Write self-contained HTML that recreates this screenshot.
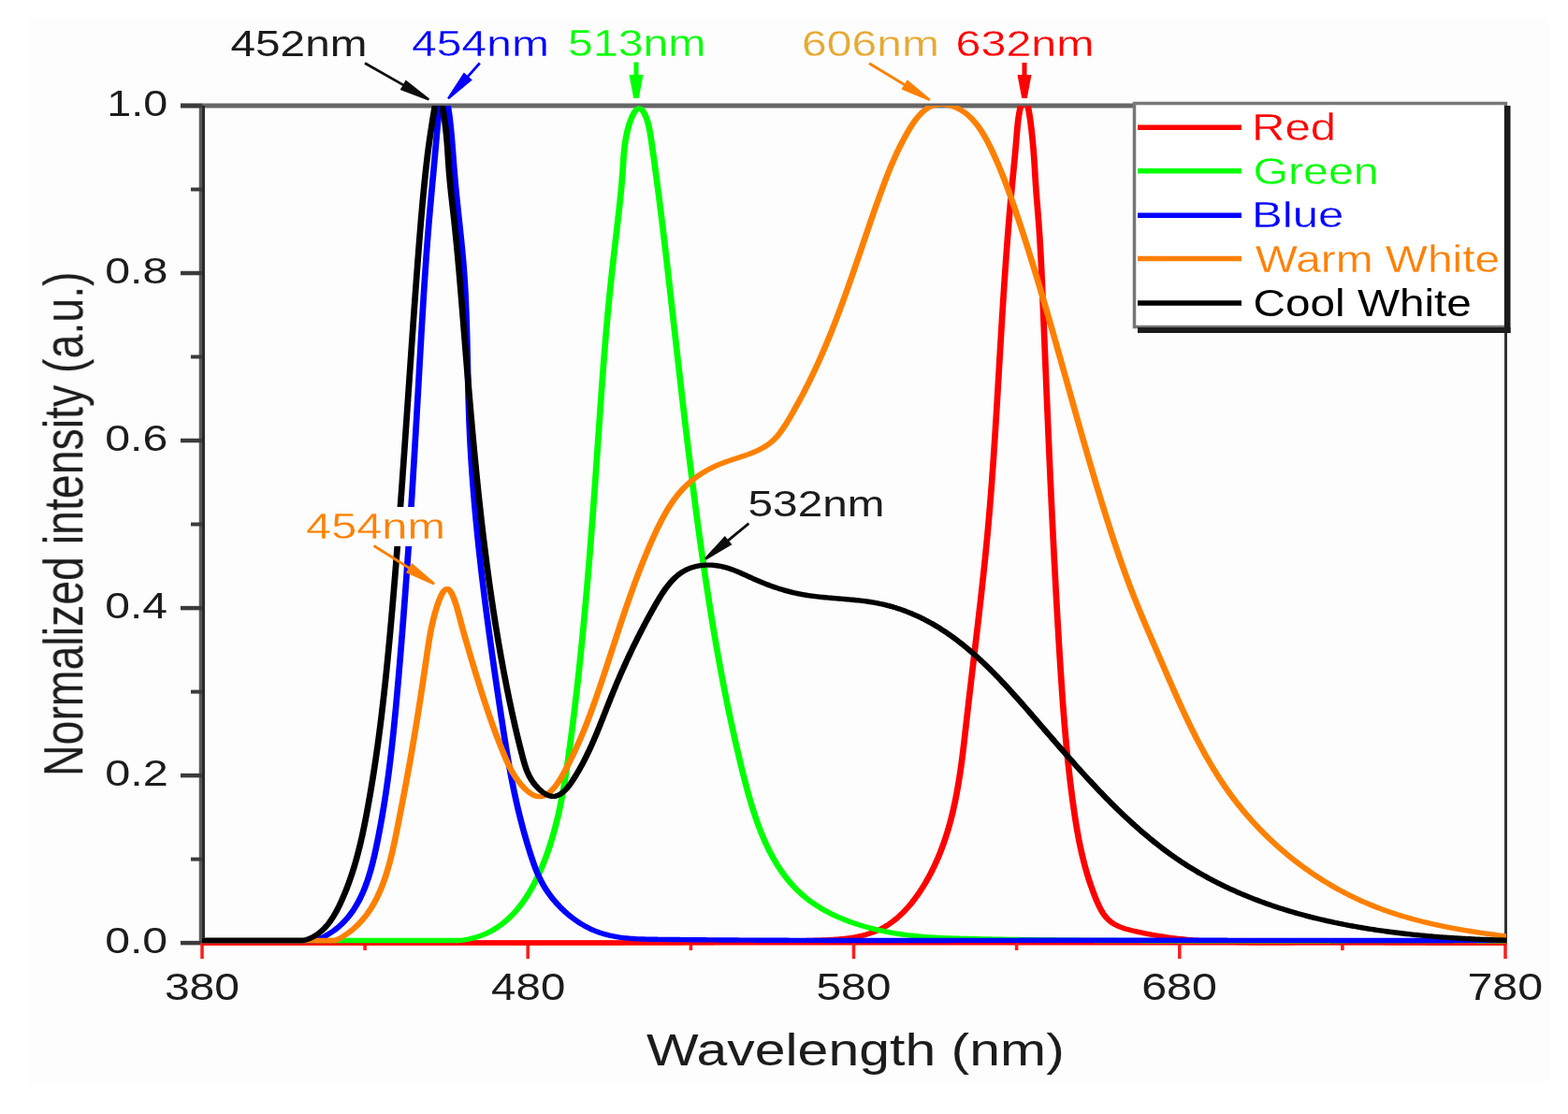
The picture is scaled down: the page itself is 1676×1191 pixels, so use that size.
<!DOCTYPE html>
<html><head><meta charset="utf-8"><style>
html,body{margin:0;padding:0;background:#fff;}
svg{display:block;}
text{font-family:"Liberation Sans",Arial,sans-serif;filter:url(#tblur);}
text.c{stroke:#fdfdfd;stroke-width:0.3px;}
</style></head><body>
<svg xmlns="http://www.w3.org/2000/svg" width="1676" height="1191" viewBox="0 0 1676 1191">
<defs><filter id="tblur" x="-5%" y="-20%" width="110%" height="140%"><feGaussianBlur stdDeviation="0.5"/></filter><filter id="soft" x="0" y="0" width="1676" height="1191" filterUnits="userSpaceOnUse"><feGaussianBlur stdDeviation="0.6"/></filter></defs>
<rect width="1676" height="1191" fill="#fff"/>
<g filter="url(#soft)">
<rect x="30" y="20" width="1627" height="1139" fill="#fdfdfd"/>
<line x1="193" y1="113" x2="1610" y2="113" stroke="#666" stroke-width="5"/>
<line x1="216" y1="1008" x2="1610" y2="1008" stroke="#ff0000" stroke-width="5"/>
<line x1="214.4" y1="113" x2="214.4" y2="1010" stroke="#5a5a5a" stroke-width="3.3"/>
<line x1="217.5" y1="113" x2="217.5" y2="1010" stroke="#2b2b2b" stroke-width="3"/>
<line x1="1609.5" y1="113" x2="1609.5" y2="1009" stroke="#333" stroke-width="3"/>
<line x1="193" y1="1008.1" x2="216" y2="1008.1" stroke="#3a3a3a" stroke-width="4.5"/>
<line x1="204" y1="918.6" x2="216" y2="918.6" stroke="#3a3a3a" stroke-width="4"/>
<line x1="193" y1="829.1" x2="216" y2="829.1" stroke="#3a3a3a" stroke-width="4.5"/>
<line x1="204" y1="739.6" x2="216" y2="739.6" stroke="#3a3a3a" stroke-width="4"/>
<line x1="193" y1="650.1" x2="216" y2="650.1" stroke="#3a3a3a" stroke-width="4.5"/>
<line x1="204" y1="560.5" x2="216" y2="560.5" stroke="#3a3a3a" stroke-width="4"/>
<line x1="193" y1="471.0" x2="216" y2="471.0" stroke="#3a3a3a" stroke-width="4.5"/>
<line x1="204" y1="381.5" x2="216" y2="381.5" stroke="#3a3a3a" stroke-width="4"/>
<line x1="193" y1="292.0" x2="216" y2="292.0" stroke="#3a3a3a" stroke-width="4.5"/>
<line x1="204" y1="202.5" x2="216" y2="202.5" stroke="#3a3a3a" stroke-width="4"/>
<line x1="193" y1="113.0" x2="216" y2="113.0" stroke="#3a3a3a" stroke-width="4.5"/>
<line x1="216.0" y1="1008" x2="216.0" y2="1025" stroke="#ff1a1a" stroke-width="3.5"/>
<line x1="390.1" y1="1008" x2="390.1" y2="1016" stroke="#ff1a1a" stroke-width="3.5"/>
<line x1="564.2" y1="1008" x2="564.2" y2="1025" stroke="#ff1a1a" stroke-width="3.5"/>
<line x1="738.4" y1="1008" x2="738.4" y2="1016" stroke="#ff1a1a" stroke-width="3.5"/>
<line x1="912.5" y1="1008" x2="912.5" y2="1025" stroke="#ff1a1a" stroke-width="3.5"/>
<line x1="1086.6" y1="1008" x2="1086.6" y2="1016" stroke="#ff1a1a" stroke-width="3.5"/>
<line x1="1260.8" y1="1008" x2="1260.8" y2="1025" stroke="#ff1a1a" stroke-width="3.5"/>
<line x1="1434.9" y1="1008" x2="1434.9" y2="1016" stroke="#ff1a1a" stroke-width="3.5"/>
<line x1="1609.0" y1="1008" x2="1609.0" y2="1025" stroke="#ff1a1a" stroke-width="3.5"/>
<clipPath id="plotclip"><rect x="216" y="113" width="1394" height="900"/></clipPath>
<g clip-path="url(#plotclip)">
<g transform="scale(1.245,1)">
<path d="M173.49,1008.00 L175.14,1008.02 L176.74,1008.02 L178.35,1008.01 L179.95,1008.01 L181.56,1008.01 L183.16,1008.01 L184.77,1008.01 L186.38,1008.01 L187.98,1008.00 L189.59,1008.00 L191.19,1008.00 L192.80,1008.00 L194.41,1008.00 L196.01,1008.00 L197.62,1007.99 L199.22,1007.99 L200.83,1007.99 L202.44,1007.99 L204.04,1007.99 L205.65,1007.99 L207.26,1007.99 L208.86,1007.99 L210.47,1007.99 L212.08,1007.98 L213.68,1007.98 L215.29,1007.98 L216.90,1007.98 L218.50,1007.98 L220.11,1007.98 L221.72,1007.98 L223.33,1007.98 L224.93,1007.98 L226.54,1007.98 L228.15,1007.98 L229.76,1007.98 L231.36,1007.98 L232.97,1007.98 L234.58,1007.98 L236.19,1007.98 L237.79,1007.98 L239.40,1007.98 L241.01,1007.98 L242.62,1007.98 L244.23,1007.98 L245.83,1007.98 L247.44,1007.98 L249.05,1007.98 L250.66,1007.98 L252.27,1007.98 L253.88,1007.98 L255.48,1007.98 L257.09,1007.98 L258.70,1007.98 L260.31,1007.98 L261.92,1007.98 L263.53,1007.98 L265.14,1007.98 L266.75,1007.98 L268.35,1007.98 L269.96,1007.98 L271.57,1007.98 L273.18,1007.98 L274.79,1007.98 L276.40,1007.98 L278.01,1007.98 L279.62,1007.98 L281.23,1007.98 L282.83,1007.98 L284.44,1007.98 L286.05,1007.98 L287.66,1007.98 L289.27,1007.98 L290.88,1007.98 L292.49,1007.98 L294.10,1007.98 L295.71,1007.99 L297.32,1007.99 L298.93,1007.99 L300.54,1007.99 L302.15,1007.99 L303.76,1007.99 L305.37,1007.99 L306.98,1007.99 L308.59,1007.99 L310.19,1007.99 L311.80,1007.99 L313.41,1007.99 L315.02,1007.99 L316.63,1007.99 L318.24,1008.00 L319.85,1008.00 L321.46,1008.00 L323.07,1008.00 L324.68,1008.00 L326.29,1008.00 L327.90,1008.00 L329.51,1008.00 L331.12,1008.00 L332.73,1008.00 L334.34,1008.00 L335.95,1008.00 L337.56,1008.01 L339.17,1008.01 L340.78,1008.01 L342.39,1008.01 L344.00,1008.01 L345.61,1008.01 L347.22,1008.01 L348.83,1008.01 L350.44,1008.01 L352.05,1008.01 L353.66,1008.01 L355.27,1008.01 L356.88,1008.01 L358.49,1008.02 L360.10,1008.02 L361.71,1008.02 L363.32,1008.02 L364.93,1008.02 L366.54,1008.02 L368.15,1008.02 L369.76,1008.02 L371.37,1008.02 L372.98,1008.02 L374.59,1008.02 L376.20,1008.02 L377.81,1008.02 L379.42,1008.02 L381.03,1008.03 L382.64,1008.03 L384.25,1008.03 L385.86,1008.03 L387.47,1008.03 L389.08,1008.03 L390.69,1008.03 L392.30,1008.03 L393.91,1008.03 L395.52,1008.03 L397.13,1008.03 L398.74,1008.03 L400.35,1008.03 L401.96,1008.03 L403.57,1008.03 L405.18,1008.03 L406.79,1008.03 L408.40,1008.03 L410.00,1008.03 L411.61,1008.03 L413.22,1008.03 L414.83,1008.03 L416.44,1008.03 L418.05,1008.03 L419.66,1008.03 L421.27,1008.03 L422.88,1008.03 L424.49,1008.03 L426.10,1008.03 L427.71,1008.03 L429.32,1008.03 L430.93,1008.03 L432.54,1008.03 L434.14,1008.03 L435.75,1008.03 L437.36,1008.03 L438.97,1008.03 L440.58,1008.03 L442.19,1008.03 L443.80,1008.03 L445.41,1008.03 L447.02,1008.03 L448.62,1008.03 L450.23,1008.03 L451.84,1008.03 L453.45,1008.03 L455.06,1008.03 L456.67,1008.03 L458.28,1008.02 L459.88,1008.02 L461.49,1008.02 L463.10,1008.02 L464.71,1008.02 L466.32,1008.02 L467.93,1008.02 L469.53,1008.02 L471.14,1008.02 L472.75,1008.02 L474.36,1008.01 L475.97,1008.01 L477.57,1008.01 L479.18,1008.01 L480.79,1008.01 L482.40,1008.01 L484.00,1008.01 L485.61,1008.00 L487.22,1008.00 L488.83,1008.00 L490.43,1008.00 L492.04,1008.00 L493.65,1008.00 L495.25,1007.99 L496.86,1007.99 L498.47,1007.99 L500.08,1007.99 L501.68,1007.98 L503.29,1007.98 L504.90,1007.98 L506.50,1007.98 L508.11,1007.98 L509.72,1007.97 L511.32,1007.97 L512.93,1007.97 L514.54,1007.97 L516.14,1007.96 L517.75,1007.96 L519.35,1007.96 L520.96,1007.95 L522.57,1007.95 L524.17,1007.95 L525.78,1007.94 L527.38,1007.94 L528.99,1007.94 L530.59,1007.93 L532.20,1007.93 L533.80,1007.93 L535.41,1007.92 L537.02,1007.92 L538.62,1007.92 L540.23,1007.91 L541.83,1007.91 L543.44,1007.90 L545.04,1007.90 L546.65,1007.89 L548.25,1007.89 L549.86,1007.88 L551.46,1007.88 L553.07,1007.87 L554.67,1007.87 L556.28,1007.86 L557.88,1007.85 L559.49,1007.85 L561.09,1007.84 L562.70,1007.83 L564.30,1007.83 L565.91,1007.82 L567.51,1007.81 L569.12,1007.80 L570.72,1007.79 L572.33,1007.78 L573.93,1007.77 L575.54,1007.76 L577.15,1007.75 L578.75,1007.74 L580.36,1007.73 L581.96,1007.72 L583.57,1007.71 L585.17,1007.70 L586.78,1007.69 L588.39,1007.67 L589.99,1007.66 L591.60,1007.65 L593.20,1007.63 L594.81,1007.62 L596.42,1007.60 L598.02,1007.59 L599.63,1007.57 L601.24,1007.56 L602.85,1007.54 L604.45,1007.52 L606.06,1007.50 L607.67,1007.49 L609.28,1007.47 L610.88,1007.45 L612.49,1007.43 L614.10,1007.41 L615.71,1007.39 L617.32,1007.37 L618.92,1007.34 L620.53,1007.32 L622.14,1007.30 L623.75,1007.27 L625.36,1007.25 L626.97,1007.22 L628.58,1007.20 L630.19,1007.17 L631.80,1007.14 L633.41,1007.12 L635.02,1007.09 L636.63,1007.06 L638.24,1007.03 L639.85,1007.00 L641.47,1006.97 L643.08,1006.94 L644.69,1006.90 L646.30,1006.87 L647.91,1006.84 L649.53,1006.80 L651.14,1006.77 L652.75,1006.73 L654.37,1006.69 L655.98,1006.66 L657.59,1006.62 L659.21,1006.58 L660.82,1006.54 L662.44,1006.50 L664.05,1006.45 L665.67,1006.41 L667.28,1006.37 L668.90,1006.32 L670.52,1006.28 L672.13,1006.23 L673.75,1006.19 L675.37,1006.14 L676.99,1006.09 L678.60,1006.04 L680.22,1005.99 L681.84,1005.94 L683.46,1005.89 L685.08,1005.83 L686.70,1005.78 L688.32,1005.72 L689.94,1005.67 L691.56,1005.61 L693.18,1005.55 L694.80,1005.49 L696.42,1005.43 L698.05,1005.37 L699.67,1005.31 L701.29,1005.25 L702.92,1005.18 L704.54,1005.11 L706.16,1005.04 L707.78,1004.96 L709.40,1004.87 L711.01,1004.78 L712.62,1004.67 L714.23,1004.56 L715.84,1004.43 L717.44,1004.30 L719.04,1004.15 L720.64,1003.98 L722.22,1003.80 L723.81,1003.61 L725.38,1003.39 L726.95,1003.16 L728.52,1002.91 L730.08,1002.64 L731.63,1002.34 L733.17,1002.02 L734.70,1001.68 L736.22,1001.32 L737.74,1000.93 L739.24,1000.51 L740.74,1000.06 L742.23,999.58 L743.70,999.08 L745.16,998.54 L746.61,997.97 L748.05,997.37 L749.48,996.73 L750.90,996.06 L752.30,995.34 L753.68,994.60 L755.06,993.81 L756.42,992.98 L757.76,992.12 L759.09,991.21 L760.40,990.26 L761.70,989.26 L762.98,988.23 L764.25,987.16 L765.50,986.06 L766.74,984.92 L767.96,983.74 L769.17,982.52 L770.36,981.28 L771.54,980.00 L772.70,978.69 L773.84,977.35 L774.98,975.98 L776.09,974.58 L777.19,973.15 L778.28,971.70 L779.35,970.22 L780.41,968.72 L781.45,967.19 L782.48,965.64 L783.49,964.07 L784.49,962.48 L785.47,960.87 L786.44,959.24 L787.40,957.59 L788.34,955.92 L789.26,954.24 L790.17,952.54 L791.07,950.83 L791.95,949.11 L792.82,947.38 L793.67,945.63 L794.51,943.88 L795.33,942.11 L796.14,940.34 L796.94,938.56 L797.72,936.78 L798.49,934.99 L799.24,933.19 L799.98,931.39 L800.70,929.58 L801.42,927.77 L802.12,925.95 L802.80,924.13 L803.47,922.30 L804.13,920.47 L804.78,918.63 L805.42,916.79 L806.04,914.94 L806.65,913.09 L807.25,911.23 L807.84,909.37 L808.41,907.51 L808.97,905.64 L809.53,903.77 L810.07,901.89 L810.60,900.01 L811.12,898.12 L811.63,896.23 L812.13,894.33 L812.62,892.44 L813.09,890.53 L813.56,888.63 L814.02,886.72 L814.47,884.81 L814.91,882.89 L815.34,880.97 L815.76,879.04 L816.17,877.12 L816.58,875.19 L816.97,873.25 L817.36,871.32 L817.74,869.38 L818.11,867.43 L818.47,865.49 L818.82,863.54 L819.17,861.59 L819.51,859.64 L819.84,857.68 L820.17,855.72 L820.49,853.76 L820.80,851.79 L821.10,849.83 L821.40,847.86 L821.70,845.89 L821.98,843.91 L822.26,841.94 L822.54,839.96 L822.81,837.98 L823.07,836.00 L823.33,834.02 L823.58,832.03 L823.83,830.05 L824.08,828.06 L824.32,826.07 L824.55,824.08 L824.78,822.09 L825.01,820.09 L825.23,818.10 L825.45,816.10 L825.67,814.11 L825.88,812.11 L826.09,810.11 L826.30,808.11 L826.50,806.11 L826.70,804.11 L826.90,802.10 L827.09,800.10 L827.29,798.10 L827.48,796.09 L827.67,794.09 L827.86,792.08 L828.05,790.08 L828.23,788.08 L828.41,786.07 L828.60,784.06 L828.78,782.06 L828.96,780.05 L829.14,778.05 L829.32,776.04 L829.51,774.04 L829.69,772.04 L829.87,770.03 L830.05,768.03 L830.23,766.03 L830.41,764.02 L830.60,762.02 L830.78,760.02 L830.96,758.02 L831.15,756.02 L831.33,754.02 L831.52,752.02 L831.70,750.03 L831.89,748.03 L832.07,746.03 L832.26,744.03 L832.45,742.04 L832.63,740.04 L832.82,738.05 L833.01,736.05 L833.20,734.06 L833.38,732.06 L833.57,730.07 L833.76,728.08 L833.95,726.08 L834.14,724.09 L834.33,722.10 L834.52,720.11 L834.70,718.11 L834.89,716.12 L835.08,714.13 L835.27,712.14 L835.46,710.15 L835.65,708.16 L835.84,706.17 L836.03,704.19 L836.22,702.20 L836.41,700.21 L836.60,698.22 L836.79,696.23 L836.98,694.24 L837.17,692.26 L837.35,690.27 L837.54,688.28 L837.73,686.30 L837.92,684.31 L838.11,682.32 L838.30,680.34 L838.48,678.35 L838.67,676.37 L838.86,674.38 L839.04,672.40 L839.23,670.41 L839.42,668.43 L839.60,666.44 L839.79,664.46 L839.97,662.47 L840.16,660.49 L840.34,658.50 L840.53,656.52 L840.71,654.54 L840.89,652.55 L841.07,650.57 L841.26,648.59 L841.44,646.60 L841.62,644.62 L841.80,642.63 L841.98,640.65 L842.16,638.67 L842.34,636.68 L842.52,634.70 L842.69,632.72 L842.87,630.73 L843.05,628.75 L843.22,626.77 L843.39,624.78 L843.57,622.80 L843.74,620.81 L843.91,618.83 L844.09,616.85 L844.26,614.86 L844.43,612.88 L844.60,610.89 L844.76,608.91 L844.93,606.93 L845.10,604.94 L845.26,602.96 L845.43,600.97 L845.59,598.99 L845.76,597.00 L845.92,595.02 L846.08,593.03 L846.24,591.05 L846.40,589.06 L846.55,587.07 L846.71,585.09 L846.87,583.10 L847.02,581.12 L847.18,579.13 L847.33,577.14 L847.48,575.15 L847.63,573.17 L847.78,571.18 L847.93,569.19 L848.07,567.20 L848.22,565.21 L848.36,563.22 L848.50,561.24 L848.65,559.25 L848.79,557.26 L848.93,555.27 L849.06,553.28 L849.20,551.29 L849.34,549.29 L849.47,547.30 L849.61,545.31 L849.74,543.32 L849.87,541.33 L850.00,539.34 L850.13,537.34 L850.26,535.35 L850.39,533.36 L850.52,531.36 L850.64,529.37 L850.77,527.38 L850.89,525.38 L851.02,523.39 L851.14,521.39 L851.26,519.40 L851.38,517.40 L851.50,515.41 L851.62,513.41 L851.74,511.42 L851.86,509.42 L851.97,507.43 L852.09,505.43 L852.20,503.43 L852.32,501.44 L852.43,499.44 L852.54,497.44 L852.66,495.44 L852.77,493.45 L852.88,491.45 L852.99,489.45 L853.10,487.45 L853.21,485.45 L853.31,483.45 L853.42,481.46 L853.53,479.46 L853.63,477.46 L853.74,475.46 L853.85,473.46 L853.95,471.46 L854.05,469.46 L854.16,467.46 L854.26,465.46 L854.36,463.46 L854.47,461.45 L854.57,459.45 L854.67,457.45 L854.77,455.45 L854.87,453.45 L854.97,451.45 L855.07,449.44 L855.17,447.44 L855.27,445.44 L855.37,443.44 L855.47,441.43 L855.56,439.43 L855.66,437.43 L855.76,435.43 L855.86,433.42 L855.95,431.42 L856.05,429.42 L856.15,427.41 L856.24,425.41 L856.34,423.40 L856.43,421.40 L856.53,419.39 L856.62,417.39 L856.72,415.38 L856.82,413.38 L856.91,411.38 L857.01,409.37 L857.10,407.36 L857.20,405.36 L857.29,403.35 L857.38,401.35 L857.48,399.34 L857.57,397.34 L857.67,395.33 L857.76,393.32 L857.86,391.32 L857.95,389.31 L858.05,387.30 L858.14,385.30 L858.24,383.29 L858.33,381.28 L858.43,379.28 L858.52,377.27 L858.62,375.26 L858.71,373.26 L858.81,371.25 L858.91,369.24 L859.00,367.23 L859.10,365.23 L859.20,363.22 L859.29,361.21 L859.39,359.20 L859.49,357.20 L859.58,355.19 L859.68,353.18 L859.78,351.17 L859.88,349.17 L859.98,347.16 L860.08,345.15 L860.17,343.14 L860.27,341.14 L860.37,339.13 L860.47,337.12 L860.57,335.12 L860.68,333.11 L860.78,331.11 L860.88,329.10 L860.98,327.10 L861.08,325.09 L861.19,323.09 L861.29,321.08 L861.39,319.08 L861.50,317.07 L861.60,315.07 L861.71,313.07 L861.81,311.07 L861.92,309.06 L862.02,307.06 L862.13,305.06 L862.24,303.06 L862.35,301.06 L862.45,299.06 L862.56,297.06 L862.67,295.06 L862.78,293.07 L862.89,291.07 L863.00,289.07 L863.12,287.08 L863.23,285.08 L863.34,283.09 L863.46,281.09 L863.57,279.10 L863.68,277.10 L863.80,275.11 L863.92,273.12 L864.03,271.13 L864.15,269.14 L864.27,267.15 L864.39,265.16 L864.51,263.18 L864.63,261.19 L864.75,259.20 L864.87,257.22 L864.99,255.23 L865.11,253.25 L865.24,251.27 L865.36,249.29 L865.49,247.31 L865.61,245.33 L865.74,243.35 L865.87,241.37 L866.00,239.40 L866.13,237.42 L866.26,235.45 L866.39,233.47 L866.52,231.50 L866.65,229.53 L866.79,227.56 L866.92,225.59 L867.06,223.63 L867.19,221.66 L867.33,219.69 L867.47,217.73 L867.61,215.77 L867.75,213.81 L867.89,211.85 L868.03,209.89 L868.18,207.93 L868.32,205.97 L868.46,204.02 L868.61,202.06 L868.76,200.11 L868.91,198.16 L869.05,196.21 L869.20,194.26 L869.35,192.31 L869.51,190.35 L869.66,188.39 L869.81,186.43 L869.96,184.47 L870.12,182.50 L870.27,180.52 L870.42,178.54 L870.58,176.54 L870.73,174.54 L870.88,172.53 L871.04,170.51 L871.19,168.48 L871.34,166.44 L871.50,164.38 L871.65,162.31 L871.80,160.23 L871.95,158.13 L872.10,156.02 L872.25,153.88 L872.40,151.73 L872.54,149.57 L872.69,147.38 L872.84,145.17 L872.98,142.94 L873.13,140.69 L873.29,138.42 L873.46,136.11 L873.64,133.78 L873.85,131.42 L874.08,129.02 L874.34,126.59 L874.63,124.13 L874.96,121.62 L875.32,119.12 L875.71,116.66 L876.13,114.31 L876.56,112.13 L877.00,110.18 L877.44,108.50 L877.88,107.17 L878.32,106.19 L878.75,105.57 L879.17,105.27 L879.58,105.28 L879.99,105.58 L880.39,106.16 L880.78,107.00 L881.17,108.09 L881.54,109.39 L881.91,110.90 L882.27,112.60 L882.62,114.48 L882.96,116.50 L883.29,118.67 L883.61,120.95 L883.92,123.34 L884.22,125.81 L884.51,128.34 L884.79,130.93 L885.05,133.55 L885.31,136.18 L885.56,138.81 L885.79,141.42 L886.01,144.00 L886.22,146.52 L886.42,148.97 L886.61,151.35 L886.78,153.68 L886.94,155.94 L887.10,158.14 L887.25,160.29 L887.38,162.40 L887.51,164.45 L887.63,166.47 L887.75,168.44 L887.86,170.39 L887.96,172.29 L888.06,174.17 L888.16,176.03 L888.25,177.87 L888.34,179.68 L888.43,181.49 L888.51,183.28 L888.60,185.06 L888.68,186.84 L888.77,188.63 L888.85,190.41 L888.94,192.20 L889.03,194.01 L889.12,195.82 L889.22,197.66 L889.32,199.51 L889.43,201.39 L889.54,203.29 L889.65,205.21 L889.77,207.15 L889.89,209.11 L890.02,211.09 L890.14,213.08 L890.27,215.09 L890.40,217.11 L890.54,219.14 L890.67,221.18 L890.80,223.23 L890.94,225.29 L891.07,227.35 L891.20,229.42 L891.33,231.49 L891.47,233.56 L891.59,235.63 L891.72,237.70 L891.85,239.77 L891.97,241.83 L892.09,243.90 L892.20,245.95 L892.32,248.01 L892.43,250.06 L892.54,252.10 L892.64,254.15 L892.74,256.19 L892.85,258.23 L892.95,260.26 L893.04,262.29 L893.14,264.32 L893.23,266.35 L893.32,268.37 L893.41,270.40 L893.50,272.42 L893.58,274.43 L893.67,276.45 L893.75,278.46 L893.83,280.47 L893.91,282.48 L893.99,284.49 L894.07,286.50 L894.14,288.50 L894.22,290.50 L894.29,292.51 L894.36,294.51 L894.44,296.50 L894.51,298.50 L894.58,300.50 L894.65,302.50 L894.71,304.49 L894.78,306.49 L894.85,308.48 L894.92,310.48 L894.98,312.47 L895.05,314.46 L895.12,316.45 L895.18,318.45 L895.25,320.44 L895.31,322.43 L895.38,324.43 L895.45,326.42 L895.51,328.41 L895.58,330.41 L895.64,332.40 L895.71,334.39 L895.78,336.39 L895.84,338.38 L895.91,340.38 L895.97,342.37 L896.04,344.36 L896.10,346.36 L896.17,348.35 L896.24,350.35 L896.30,352.34 L896.37,354.33 L896.43,356.33 L896.50,358.32 L896.56,360.32 L896.63,362.31 L896.70,364.31 L896.76,366.30 L896.83,368.30 L896.89,370.29 L896.96,372.29 L897.03,374.28 L897.09,376.28 L897.16,378.28 L897.22,380.27 L897.29,382.27 L897.36,384.26 L897.42,386.26 L897.49,388.25 L897.55,390.25 L897.62,392.25 L897.69,394.24 L897.75,396.24 L897.82,398.24 L897.89,400.23 L897.95,402.23 L898.02,404.23 L898.09,406.22 L898.15,408.22 L898.22,410.22 L898.29,412.21 L898.35,414.21 L898.42,416.21 L898.49,418.20 L898.56,420.20 L898.62,422.20 L898.69,424.20 L898.76,426.19 L898.83,428.19 L898.89,430.19 L898.96,432.19 L899.03,434.18 L899.10,436.18 L899.16,438.18 L899.23,440.18 L899.30,442.18 L899.37,444.17 L899.44,446.17 L899.51,448.17 L899.57,450.17 L899.64,452.17 L899.71,454.16 L899.78,456.16 L899.85,458.16 L899.92,460.16 L899.99,462.16 L900.06,464.16 L900.13,466.16 L900.20,468.16 L900.27,470.15 L900.34,472.15 L900.41,474.15 L900.48,476.15 L900.55,478.15 L900.62,480.15 L900.69,482.15 L900.76,484.15 L900.83,486.15 L900.90,488.15 L900.97,490.15 L901.05,492.15 L901.12,494.15 L901.19,496.15 L901.26,498.15 L901.33,500.15 L901.41,502.15 L901.48,504.15 L901.55,506.15 L901.62,508.15 L901.70,510.15 L901.77,512.15 L901.84,514.15 L901.92,516.15 L901.99,518.15 L902.06,520.15 L902.14,522.15 L902.21,524.15 L902.29,526.15 L902.36,528.15 L902.44,530.15 L902.51,532.15 L902.59,534.15 L902.66,536.15 L902.74,538.15 L902.81,540.15 L902.89,542.15 L902.97,544.16 L903.04,546.16 L903.12,548.16 L903.20,550.16 L903.27,552.16 L903.35,554.16 L903.43,556.16 L903.51,558.16 L903.58,560.16 L903.66,562.17 L903.74,564.17 L903.82,566.17 L903.90,568.17 L903.98,570.17 L904.06,572.17 L904.14,574.18 L904.22,576.18 L904.30,578.18 L904.38,580.18 L904.46,582.18 L904.54,584.18 L904.62,586.19 L904.70,588.19 L904.78,590.19 L904.87,592.19 L904.95,594.19 L905.03,596.20 L905.11,598.20 L905.20,600.20 L905.28,602.20 L905.36,604.20 L905.45,606.21 L905.53,608.21 L905.62,610.21 L905.70,612.21 L905.79,614.21 L905.87,616.22 L905.96,618.22 L906.04,620.22 L906.13,622.22 L906.22,624.23 L906.30,626.23 L906.39,628.23 L906.48,630.23 L906.56,632.24 L906.65,634.24 L906.74,636.24 L906.83,638.24 L906.92,640.25 L907.01,642.25 L907.10,644.25 L907.19,646.25 L907.28,648.26 L907.37,650.26 L907.46,652.26 L907.55,654.27 L907.64,656.27 L907.73,658.27 L907.83,660.27 L907.92,662.28 L908.01,664.28 L908.11,666.28 L908.20,668.29 L908.29,670.29 L908.39,672.29 L908.48,674.29 L908.58,676.30 L908.67,678.30 L908.77,680.30 L908.86,682.31 L908.96,684.31 L909.06,686.31 L909.16,688.32 L909.25,690.32 L909.35,692.32 L909.45,694.32 L909.55,696.33 L909.65,698.33 L909.75,700.33 L909.85,702.34 L909.95,704.34 L910.05,706.34 L910.15,708.35 L910.25,710.35 L910.35,712.35 L910.46,714.36 L910.56,716.36 L910.66,718.36 L910.77,720.36 L910.87,722.37 L910.98,724.37 L911.08,726.37 L911.19,728.37 L911.30,730.38 L911.41,732.38 L911.52,734.38 L911.63,736.38 L911.74,738.38 L911.85,740.38 L911.97,742.38 L912.08,744.38 L912.20,746.39 L912.31,748.39 L912.43,750.38 L912.55,752.38 L912.67,754.38 L912.79,756.38 L912.91,758.38 L913.03,760.38 L913.16,762.38 L913.28,764.37 L913.41,766.37 L913.54,768.37 L913.67,770.37 L913.80,772.36 L913.93,774.36 L914.06,776.35 L914.20,778.35 L914.33,780.34 L914.47,782.34 L914.61,784.33 L914.75,786.32 L914.89,788.31 L915.04,790.31 L915.18,792.30 L915.33,794.29 L915.48,796.28 L915.63,798.27 L915.78,800.26 L915.94,802.25 L916.09,804.23 L916.25,806.22 L916.41,808.21 L916.57,810.19 L916.74,812.18 L916.90,814.16 L917.07,816.15 L917.24,818.13 L917.41,820.11 L917.58,822.10 L917.76,824.08 L917.93,826.06 L918.11,828.04 L918.30,830.02 L918.48,831.99 L918.67,833.97 L918.85,835.95 L919.05,837.93 L919.24,839.90 L919.43,841.87 L919.63,843.85 L919.83,845.82 L920.03,847.79 L920.24,849.76 L920.45,851.73 L920.65,853.70 L920.87,855.67 L921.08,857.64 L921.30,859.61 L921.52,861.57 L921.74,863.54 L921.97,865.50 L922.19,867.46 L922.43,869.42 L922.66,871.38 L922.90,873.34 L923.14,875.30 L923.38,877.26 L923.63,879.22 L923.89,881.18 L924.15,883.13 L924.41,885.09 L924.68,887.05 L924.95,889.00 L925.23,890.95 L925.52,892.91 L925.81,894.86 L926.11,896.82 L926.41,898.77 L926.72,900.72 L927.04,902.67 L927.37,904.63 L927.70,906.58 L928.04,908.53 L928.39,910.48 L928.74,912.43 L929.11,914.39 L929.48,916.34 L929.86,918.29 L930.25,920.24 L930.65,922.19 L931.06,924.15 L931.48,926.10 L931.91,928.05 L932.35,930.01 L932.80,931.96 L933.27,933.91 L933.74,935.87 L934.22,937.82 L934.72,939.78 L935.22,941.74 L935.74,943.69 L936.27,945.65 L936.81,947.61 L937.37,949.57 L937.94,951.53 L938.52,953.49 L939.11,955.45 L939.72,957.41 L940.34,959.37 L940.98,961.34 L941.63,963.29 L942.30,965.24 L943.00,967.16 L943.72,969.06 L944.48,970.92 L945.26,972.74 L946.08,974.51 L946.94,976.22 L947.84,977.88 L948.79,979.46 L949.78,980.96 L950.82,982.38 L951.92,983.71 L953.08,984.95 L954.28,986.09 L955.54,987.16 L956.83,988.14 L958.18,989.05 L959.55,989.89 L960.97,990.67 L962.41,991.39 L963.89,992.05 L965.38,992.67 L966.90,993.25 L968.44,993.79 L969.99,994.30 L971.55,994.79 L973.12,995.25 L974.69,995.70 L976.27,996.14 L977.84,996.56 L979.42,996.98 L981.00,997.38 L982.57,997.78 L984.15,998.17 L985.73,998.54 L987.31,998.91 L988.89,999.27 L990.47,999.61 L992.06,999.95 L993.64,1000.28 L995.23,1000.60 L996.81,1000.91 L998.40,1001.21 L999.98,1001.51 L1001.57,1001.79 L1003.16,1002.07 L1004.75,1002.33 L1006.34,1002.59 L1007.93,1002.84 L1009.52,1003.09 L1011.11,1003.32 L1012.70,1003.55 L1014.29,1003.77 L1015.88,1003.98 L1017.48,1004.19 L1019.07,1004.39 L1020.67,1004.58 L1022.26,1004.76 L1023.86,1004.94 L1025.46,1005.11 L1027.05,1005.27 L1028.65,1005.43 L1030.25,1005.58 L1031.85,1005.73 L1033.45,1005.87 L1035.05,1006.00 L1036.65,1006.12 L1038.25,1006.24 L1039.85,1006.36 L1041.45,1006.47 L1043.05,1006.57 L1044.66,1006.67 L1046.26,1006.77 L1047.86,1006.85 L1049.47,1006.94 L1051.07,1007.02 L1052.67,1007.09 L1054.28,1007.16 L1055.88,1007.22 L1057.49,1007.29 L1059.10,1007.34 L1060.70,1007.39 L1062.31,1007.44 L1063.92,1007.49 L1065.52,1007.53 L1067.13,1007.57 L1068.74,1007.60 L1070.35,1007.63 L1071.95,1007.66 L1073.56,1007.68 L1075.17,1007.70 L1076.78,1007.72 L1078.39,1007.74 L1080.00,1007.75 L1081.61,1007.76 L1083.22,1007.77 L1084.83,1007.78 L1086.44,1007.78 L1088.05,1007.78 L1089.66,1007.78 L1091.27,1007.78 L1092.88,1007.78 L1094.49,1007.77 L1096.10,1007.77 L1097.71,1007.76 L1099.32,1007.75 L1100.93,1007.74 L1102.54,1007.73 L1104.15,1007.72 L1105.76,1007.71 L1107.38,1007.69 L1108.99,1007.68 L1110.60,1007.67 L1112.21,1007.65 L1113.82,1007.64 L1115.43,1007.63 L1117.04,1007.62 L1118.65,1007.60 L1120.26,1007.59 L1121.87,1007.58 L1123.48,1007.57 L1125.09,1007.56 L1126.70,1007.55 L1128.31,1007.54 L1129.92,1007.53 L1131.53,1007.53 L1133.14,1007.52 L1134.75,1007.51 L1136.36,1007.51 L1137.97,1007.51 L1139.58,1007.50 L1141.19,1007.50 L1142.80,1007.50 L1144.41,1007.50 L1146.02,1007.50 L1147.62,1007.50 L1149.23,1007.50 L1150.84,1007.50 L1152.45,1007.50 L1154.06,1007.51 L1155.67,1007.51 L1157.28,1007.51 L1158.88,1007.52 L1160.49,1007.52 L1162.10,1007.53 L1163.71,1007.53 L1165.32,1007.54 L1166.93,1007.55 L1168.53,1007.56 L1170.14,1007.56 L1171.75,1007.57 L1173.36,1007.58 L1174.96,1007.59 L1176.57,1007.60 L1178.18,1007.61 L1179.79,1007.62 L1181.40,1007.63 L1183.00,1007.64 L1184.61,1007.65 L1186.22,1007.66 L1187.83,1007.67 L1189.43,1007.68 L1191.04,1007.69 L1192.65,1007.70 L1194.26,1007.71 L1195.86,1007.72 L1197.47,1007.73 L1199.08,1007.75 L1200.69,1007.76 L1202.29,1007.77 L1203.90,1007.78 L1205.51,1007.79 L1207.12,1007.80 L1208.72,1007.82 L1210.33,1007.83 L1211.94,1007.84 L1213.55,1007.85 L1215.15,1007.86 L1216.76,1007.87 L1218.37,1007.88 L1219.98,1007.89 L1221.58,1007.91 L1223.19,1007.92 L1224.80,1007.93 L1226.41,1007.94 L1228.01,1007.95 L1229.62,1007.96 L1231.23,1007.96 L1232.84,1007.97 L1234.44,1007.98 L1236.05,1007.99 L1237.66,1008.00 L1239.27,1008.01 L1240.88,1008.01 L1242.49,1008.02 L1244.09,1008.03 L1245.70,1008.03 L1247.31,1008.04 L1248.92,1008.04 L1250.53,1008.05 L1252.14,1008.05 L1253.74,1008.05 L1255.35,1008.06 L1256.96,1008.06 L1258.57,1008.06 L1260.18,1008.06 L1261.79,1008.06 L1263.40,1008.06 L1265.01,1008.06 L1266.62,1008.06 L1268.23,1008.06 L1269.83,1008.06 L1271.44,1008.05 L1273.05,1008.05 L1274.66,1008.04 L1276.27,1008.04 L1277.88,1008.03 L1279.49,1008.02 L1281.10,1008.01 L1282.71,1008.00 L1284.33,1007.99 L1285.94,1007.98 L1287.55,1007.97 L1289.16,1007.96 L1290.77,1007.94 L1292.37,1008.00" fill="none" stroke="#ff0000" stroke-width="5.4" stroke-linejoin="round" stroke-linecap="round"/>
<path d="M173.49,1005.50 L176.68,1005.50 L179.87,1005.50 L183.06,1005.50 L186.25,1005.50 L189.44,1005.50 L192.63,1005.50 L195.82,1005.50 L199.01,1005.50 L202.20,1005.50 L205.39,1005.50 L208.58,1005.50 L211.77,1005.50 L214.96,1005.50 L218.15,1005.50 L221.34,1005.50 L224.53,1005.50 L227.72,1005.50 L230.91,1005.50 L234.10,1005.50 L237.29,1005.50 L240.47,1005.50 L243.66,1005.50 L246.85,1005.50 L250.04,1005.50 L253.23,1005.50 L256.42,1005.50 L259.61,1005.50 L262.80,1005.50 L265.99,1005.50 L269.18,1005.50 L272.37,1005.50 L275.56,1005.50 L278.75,1005.50 L281.94,1005.50 L285.13,1005.50 L288.32,1005.50 L291.51,1005.50 L294.70,1005.50 L297.89,1005.50 L301.08,1005.50 L304.27,1005.50 L307.46,1005.50 L310.65,1005.50 L313.84,1005.50 L317.02,1005.50 L320.21,1005.50 L323.40,1005.50 L326.59,1005.50 L329.78,1005.50 L332.97,1005.50 L336.16,1005.50 L339.35,1005.50 L342.54,1005.50 L345.73,1005.50 L348.92,1005.50 L352.11,1005.50 L355.30,1005.50 L358.49,1005.50 L361.68,1005.50 L364.87,1005.50 L368.06,1005.50 L371.25,1005.50 L374.44,1005.50 L377.63,1005.50 L380.82,1005.50 L384.01,1005.50 L387.20,1005.50 L390.38,1005.50 L393.57,1005.50 L395.19,1005.34 L396.96,1005.09 L398.70,1004.79 L400.42,1004.45 L402.11,1004.06 L403.78,1003.63 L405.42,1003.15 L407.04,1002.63 L408.64,1002.07 L410.21,1001.47 L411.76,1000.82 L413.28,1000.14 L414.78,999.41 L416.26,998.65 L417.71,997.84 L419.14,997.00 L420.55,996.12 L421.94,995.21 L423.30,994.26 L424.65,993.27 L425.97,992.25 L427.27,991.19 L428.55,990.11 L429.81,988.98 L431.05,987.83 L432.27,986.65 L433.46,985.44 L434.64,984.19 L435.80,982.92 L436.94,981.62 L438.06,980.29 L439.16,978.94 L440.24,977.55 L441.31,976.15 L442.35,974.71 L443.38,973.26 L444.39,971.78 L445.38,970.28 L446.36,968.75 L447.32,967.20 L448.26,965.64 L449.18,964.05 L450.09,962.44 L450.99,960.81 L451.86,959.17 L452.72,957.51 L453.57,955.83 L454.40,954.14 L455.21,952.43 L456.01,950.70 L456.80,948.96 L457.57,947.21 L458.33,945.45 L459.07,943.67 L459.80,941.88 L460.52,940.08 L461.22,938.27 L461.92,936.46 L462.59,934.63 L463.26,932.79 L463.91,930.95 L464.56,929.11 L465.19,927.25 L465.80,925.39 L466.41,923.53 L467.01,921.66 L467.59,919.79 L468.17,917.91 L468.73,916.04 L469.29,914.15 L469.83,912.27 L470.36,910.38 L470.89,908.48 L471.40,906.59 L471.90,904.69 L472.40,902.79 L472.89,900.88 L473.36,898.97 L473.83,897.06 L474.29,895.14 L474.74,893.23 L475.18,891.30 L475.61,889.38 L476.04,887.45 L476.45,885.52 L476.86,883.59 L477.26,881.66 L477.65,879.72 L478.04,877.78 L478.42,875.84 L478.79,873.90 L479.15,871.95 L479.51,870.00 L479.86,868.05 L480.21,866.10 L480.55,864.14 L480.88,862.18 L481.20,860.22 L481.52,858.26 L481.84,856.30 L482.15,854.34 L482.45,852.37 L482.75,850.40 L483.04,848.43 L483.33,846.46 L483.61,844.49 L483.89,842.52 L484.16,840.54 L484.43,838.56 L484.70,836.59 L484.96,834.61 L485.22,832.63 L485.47,830.65 L485.72,828.67 L485.97,826.68 L486.21,824.70 L486.45,822.71 L486.69,820.73 L486.92,818.74 L487.15,816.76 L487.38,814.77 L487.61,812.78 L487.84,810.79 L488.06,808.81 L488.28,806.82 L488.50,804.83 L488.72,802.84 L488.93,800.85 L489.15,798.86 L489.36,796.87 L489.58,794.88 L489.79,792.89 L490.00,790.90 L490.21,788.91 L490.42,786.92 L490.62,784.94 L490.83,782.95 L491.04,780.96 L491.24,778.97 L491.44,776.98 L491.64,774.99 L491.85,773.00 L492.04,771.01 L492.24,769.02 L492.44,767.03 L492.64,765.04 L492.83,763.05 L493.03,761.06 L493.22,759.06 L493.41,757.07 L493.60,755.08 L493.79,753.09 L493.98,751.10 L494.17,749.11 L494.36,747.12 L494.54,745.13 L494.73,743.14 L494.91,741.15 L495.10,739.16 L495.28,737.17 L495.46,735.18 L495.64,733.19 L495.82,731.19 L496.00,729.20 L496.17,727.21 L496.35,725.22 L496.53,723.23 L496.70,721.24 L496.87,719.25 L497.05,717.26 L497.22,715.26 L497.39,713.27 L497.56,711.28 L497.73,709.29 L497.90,707.30 L498.06,705.31 L498.23,703.32 L498.40,701.32 L498.56,699.33 L498.72,697.34 L498.89,695.35 L499.05,693.36 L499.21,691.36 L499.37,689.37 L499.53,687.38 L499.69,685.39 L499.85,683.40 L500.01,681.40 L500.16,679.41 L500.32,677.42 L500.47,675.43 L500.63,673.43 L500.78,671.44 L500.93,669.45 L501.09,667.46 L501.24,665.46 L501.39,663.47 L501.54,661.48 L501.69,659.49 L501.84,657.49 L501.98,655.50 L502.13,653.51 L502.28,651.52 L502.42,649.52 L502.57,647.53 L502.71,645.54 L502.86,643.54 L503.00,641.55 L503.14,639.56 L503.28,637.56 L503.42,635.57 L503.56,633.58 L503.70,631.58 L503.84,629.59 L503.98,627.60 L504.12,625.60 L504.26,623.61 L504.39,621.62 L504.53,619.62 L504.66,617.63 L504.80,615.64 L504.93,613.64 L505.07,611.65 L505.20,609.66 L505.33,607.66 L505.47,605.67 L505.60,603.68 L505.73,601.68 L505.86,599.69 L505.99,597.69 L506.12,595.70 L506.25,593.71 L506.38,591.71 L506.50,589.72 L506.63,587.72 L506.76,585.73 L506.89,583.74 L507.01,581.74 L507.14,579.75 L507.26,577.75 L507.39,575.76 L507.51,573.76 L507.64,571.77 L507.76,569.78 L507.88,567.78 L508.00,565.79 L508.13,563.79 L508.25,561.80 L508.37,559.80 L508.49,557.81 L508.61,555.81 L508.73,553.82 L508.85,551.82 L508.97,549.83 L509.09,547.83 L509.21,545.84 L509.33,543.84 L509.45,541.85 L509.56,539.86 L509.68,537.86 L509.80,535.87 L509.91,533.87 L510.03,531.88 L510.15,529.88 L510.26,527.88 L510.38,525.89 L510.49,523.89 L510.61,521.90 L510.72,519.90 L510.84,517.91 L510.95,515.91 L511.07,513.92 L511.18,511.92 L511.29,509.93 L511.41,507.93 L511.52,505.94 L511.63,503.94 L511.75,501.95 L511.86,499.95 L511.97,497.95 L512.08,495.96 L512.20,493.96 L512.31,491.97 L512.42,489.97 L512.53,487.98 L512.64,485.98 L512.75,483.99 L512.86,481.99 L512.97,479.99 L513.09,478.00 L513.20,476.00 L513.31,474.01 L513.42,472.01 L513.53,470.01 L513.64,468.02 L513.75,466.02 L513.86,464.03 L513.97,462.03 L514.08,460.03 L514.19,458.04 L514.30,456.04 L514.41,454.05 L514.52,452.05 L514.63,450.05 L514.74,448.06 L514.85,446.06 L514.97,444.06 L515.08,442.07 L515.19,440.07 L515.30,438.08 L515.41,436.08 L515.53,434.08 L515.64,432.09 L515.75,430.09 L515.87,428.09 L515.98,426.10 L516.09,424.10 L516.21,422.10 L516.32,420.11 L516.44,418.11 L516.55,416.11 L516.67,414.11 L516.79,412.12 L516.90,410.12 L517.02,408.12 L517.14,406.13 L517.26,404.13 L517.38,402.13 L517.50,400.14 L517.62,398.14 L517.74,396.14 L517.86,394.14 L517.98,392.15 L518.11,390.15 L518.23,388.15 L518.35,386.15 L518.48,384.16 L518.60,382.16 L518.73,380.16 L518.86,378.16 L518.98,376.17 L519.11,374.17 L519.24,372.17 L519.37,370.17 L519.50,368.17 L519.64,366.18 L519.77,364.18 L519.90,362.18 L520.04,360.18 L520.17,358.18 L520.31,356.19 L520.45,354.19 L520.59,352.19 L520.73,350.19 L520.87,348.19 L521.01,346.19 L521.15,344.19 L521.30,342.20 L521.44,340.20 L521.59,338.20 L521.73,336.20 L521.88,334.20 L522.03,332.20 L522.18,330.20 L522.33,328.20 L522.49,326.21 L522.64,324.21 L522.80,322.21 L522.95,320.21 L523.11,318.21 L523.27,316.21 L523.43,314.21 L523.60,312.21 L523.76,310.21 L523.92,308.21 L524.09,306.21 L524.26,304.21 L524.43,302.21 L524.60,300.21 L524.77,298.21 L524.94,296.21 L525.12,294.21 L525.29,292.21 L525.47,290.22 L525.64,288.22 L525.82,286.22 L526.00,284.22 L526.18,282.23 L526.36,280.23 L526.54,278.24 L526.72,276.24 L526.91,274.25 L527.09,272.26 L527.27,270.27 L527.45,268.28 L527.64,266.29 L527.82,264.30 L528.01,262.31 L528.19,260.33 L528.37,258.35 L528.56,256.36 L528.74,254.38 L528.92,252.40 L529.11,250.43 L529.29,248.45 L529.47,246.48 L529.65,244.51 L529.83,242.54 L530.01,240.57 L530.19,238.61 L530.37,236.65 L530.55,234.69 L530.73,232.73 L530.91,230.77 L531.08,228.82 L531.26,226.87 L531.43,224.92 L531.60,222.98 L531.77,221.04 L531.94,219.10 L532.11,217.16 L532.27,215.22 L532.44,213.28 L532.60,211.34 L532.76,209.40 L532.92,207.46 L533.07,205.51 L533.22,203.56 L533.37,201.61 L533.52,199.65 L533.66,197.68 L533.80,195.71 L533.93,193.73 L534.07,191.74 L534.19,189.74 L534.32,187.73 L534.43,185.71 L534.55,183.68 L534.66,181.64 L534.76,179.59 L534.87,177.52 L534.97,175.44 L535.08,173.36 L535.20,171.26 L535.32,169.15 L535.45,167.03 L535.59,164.90 L535.74,162.77 L535.91,160.62 L536.10,158.47 L536.30,156.31 L536.53,154.14 L536.78,151.96 L537.05,149.78 L537.36,147.58 L537.69,145.39 L538.05,143.19 L538.45,140.98 L538.88,138.76 L539.35,136.55 L539.86,134.34 L540.40,132.17 L540.97,130.05 L541.57,128.00 L542.20,126.04 L542.85,124.20 L543.52,122.49 L544.21,120.93 L544.91,119.55 L545.64,118.36 L546.37,117.39 L547.11,116.65 L547.86,116.17 L548.61,115.97 L549.36,116.06 L550.11,116.46 L550.86,117.18 L551.59,118.16 L552.31,119.38 L552.99,120.79 L553.65,122.34 L554.26,124.01 L554.82,125.75 L555.35,127.56 L555.83,129.44 L556.28,131.37 L556.69,133.36 L557.08,135.40 L557.43,137.47 L557.77,139.58 L558.08,141.72 L558.37,143.89 L558.65,146.07 L558.92,148.26 L559.18,150.45 L559.43,152.65 L559.68,154.84 L559.93,157.02 L560.18,159.19 L560.43,161.36 L560.67,163.52 L560.91,165.67 L561.15,167.82 L561.39,169.96 L561.63,172.09 L561.86,174.22 L562.10,176.34 L562.33,178.45 L562.56,180.56 L562.79,182.67 L563.01,184.76 L563.24,186.85 L563.46,188.94 L563.68,191.02 L563.91,193.10 L564.12,195.17 L564.34,197.23 L564.56,199.29 L564.77,201.34 L564.99,203.39 L565.20,205.44 L565.41,207.48 L565.62,209.52 L565.83,211.55 L566.04,213.58 L566.24,215.60 L566.45,217.62 L566.65,219.64 L566.85,221.65 L567.06,223.66 L567.26,225.66 L567.46,227.66 L567.65,229.66 L567.85,231.65 L568.05,233.65 L568.24,235.63 L568.44,237.62 L568.63,239.60 L568.82,241.58 L569.02,243.56 L569.21,245.54 L569.40,247.51 L569.59,249.48 L569.78,251.45 L569.96,253.42 L570.15,255.38 L570.34,257.34 L570.52,259.31 L570.71,261.27 L570.89,263.22 L571.08,265.18 L571.26,267.14 L571.45,269.09 L571.63,271.05 L571.81,273.00 L571.99,274.95 L572.17,276.90 L572.35,278.85 L572.53,280.80 L572.71,282.75 L572.89,284.70 L573.07,286.65 L573.25,288.60 L573.43,290.55 L573.61,292.51 L573.79,294.46 L573.97,296.41 L574.15,298.36 L574.32,300.31 L574.50,302.27 L574.68,304.22 L574.86,306.18 L575.04,308.13 L575.21,310.09 L575.39,312.05 L575.57,314.01 L575.75,315.97 L575.93,317.93 L576.10,319.89 L576.28,321.86 L576.46,323.82 L576.64,325.79 L576.82,327.75 L576.99,329.72 L577.17,331.69 L577.35,333.66 L577.53,335.63 L577.71,337.60 L577.89,339.57 L578.06,341.54 L578.24,343.52 L578.42,345.49 L578.60,347.47 L578.78,349.44 L578.96,351.42 L579.14,353.40 L579.31,355.38 L579.49,357.36 L579.67,359.34 L579.85,361.32 L580.03,363.30 L580.21,365.28 L580.39,367.27 L580.57,369.25 L580.75,371.23 L580.93,373.22 L581.11,375.20 L581.29,377.19 L581.47,379.18 L581.65,381.17 L581.83,383.15 L582.01,385.14 L582.19,387.13 L582.37,389.12 L582.56,391.11 L582.74,393.10 L582.92,395.10 L583.10,397.09 L583.28,399.08 L583.47,401.07 L583.65,403.07 L583.83,405.06 L584.02,407.06 L584.20,409.05 L584.38,411.05 L584.57,413.04 L584.75,415.04 L584.93,417.03 L585.12,419.03 L585.30,421.03 L585.49,423.03 L585.67,425.02 L585.86,427.02 L586.05,429.02 L586.23,431.02 L586.42,433.02 L586.61,435.02 L586.79,437.02 L586.98,439.02 L587.17,441.02 L587.36,443.02 L587.54,445.02 L587.73,447.02 L587.92,449.02 L588.11,451.02 L588.30,453.02 L588.49,455.03 L588.68,457.03 L588.87,459.03 L589.06,461.03 L589.25,463.03 L589.45,465.03 L589.64,467.04 L589.83,469.04 L590.02,471.04 L590.22,473.04 L590.41,475.05 L590.60,477.05 L590.80,479.05 L590.99,481.05 L591.19,483.05 L591.38,485.06 L591.58,487.06 L591.78,489.06 L591.97,491.06 L592.17,493.07 L592.37,495.07 L592.57,497.07 L592.77,499.07 L592.97,501.07 L593.17,503.07 L593.37,505.07 L593.57,507.07 L593.77,509.08 L593.97,511.08 L594.17,513.08 L594.38,515.08 L594.58,517.08 L594.78,519.08 L594.99,521.07 L595.19,523.07 L595.40,525.07 L595.60,527.07 L595.81,529.07 L596.01,531.07 L596.22,533.06 L596.43,535.06 L596.64,537.06 L596.85,539.05 L597.06,541.05 L597.27,543.05 L597.48,545.04 L597.69,547.04 L597.90,549.03 L598.11,551.02 L598.33,553.02 L598.54,555.01 L598.75,557.00 L598.97,558.99 L599.18,560.98 L599.40,562.98 L599.62,564.97 L599.83,566.96 L600.05,568.94 L600.27,570.93 L600.49,572.92 L600.71,574.91 L600.93,576.89 L601.15,578.88 L601.37,580.87 L601.59,582.85 L601.82,584.83 L602.04,586.82 L602.27,588.80 L602.49,590.78 L602.72,592.76 L602.94,594.74 L603.17,596.72 L603.40,598.70 L603.63,600.68 L603.86,602.66 L604.09,604.63 L604.32,606.61 L604.55,608.59 L604.78,610.56 L605.01,612.53 L605.25,614.50 L605.48,616.48 L605.72,618.45 L605.95,620.42 L606.19,622.39 L606.43,624.35 L606.67,626.32 L606.90,628.29 L607.14,630.25 L607.38,632.22 L607.63,634.18 L607.87,636.14 L608.11,638.10 L608.36,640.06 L608.60,642.02 L608.85,643.98 L609.09,645.94 L609.34,647.90 L609.59,649.86 L609.84,651.81 L610.09,653.77 L610.34,655.72 L610.59,657.68 L610.85,659.63 L611.10,661.59 L611.36,663.54 L611.61,665.49 L611.87,667.44 L612.13,669.39 L612.39,671.35 L612.65,673.30 L612.91,675.25 L613.18,677.20 L613.44,679.15 L613.71,681.09 L613.98,683.04 L614.24,684.99 L614.51,686.94 L614.78,688.89 L615.06,690.84 L615.33,692.79 L615.60,694.73 L615.88,696.68 L616.16,698.63 L616.43,700.58 L616.71,702.52 L617.00,704.47 L617.28,706.42 L617.56,708.37 L617.85,710.31 L618.13,712.26 L618.42,714.21 L618.71,716.16 L619.00,718.10 L619.30,720.05 L619.59,722.00 L619.89,723.95 L620.18,725.90 L620.48,727.85 L620.78,729.80 L621.09,731.75 L621.39,733.70 L621.69,735.65 L622.00,737.60 L622.31,739.55 L622.62,741.50 L622.93,743.45 L623.24,745.40 L623.56,747.36 L623.88,749.31 L624.20,751.27 L624.52,753.22 L624.84,755.18 L625.16,757.13 L625.49,759.09 L625.82,761.04 L626.14,763.00 L626.48,764.96 L626.81,766.92 L627.14,768.88 L627.48,770.84 L627.82,772.80 L628.16,774.77 L628.50,776.73 L628.85,778.69 L629.19,780.66 L629.54,782.63 L629.89,784.59 L630.25,786.56 L630.60,788.53 L630.96,790.50 L631.31,792.47 L631.68,794.44 L632.04,796.42 L632.40,798.39 L632.77,800.37 L633.14,802.34 L633.51,804.32 L633.88,806.30 L634.26,808.28 L634.64,810.26 L635.02,812.25 L635.40,814.23 L635.78,816.22 L636.17,818.20 L636.56,820.19 L636.95,822.18 L637.34,824.17 L637.74,826.16 L638.14,828.16 L638.54,830.15 L638.95,832.14 L639.36,834.13 L639.77,836.13 L640.19,838.12 L640.61,840.11 L641.03,842.10 L641.46,844.08 L641.89,846.07 L642.33,848.05 L642.78,850.03 L643.23,852.01 L643.68,853.98 L644.14,855.96 L644.61,857.92 L645.08,859.89 L645.56,861.85 L646.04,863.80 L646.54,865.75 L647.03,867.70 L647.54,869.64 L648.05,871.58 L648.57,873.50 L649.10,875.43 L649.64,877.34 L650.18,879.25 L650.73,881.16 L651.29,883.05 L651.86,884.94 L652.44,886.82 L653.03,888.70 L653.63,890.56 L654.23,892.42 L654.85,894.26 L655.48,896.10 L656.11,897.93 L656.76,899.75 L657.42,901.56 L658.08,903.35 L658.76,905.14 L659.45,906.92 L660.15,908.68 L660.86,910.44 L661.59,912.18 L662.32,913.91 L663.07,915.63 L663.83,917.34 L664.60,919.03 L665.39,920.71 L666.19,922.38 L667.00,924.03 L667.82,925.67 L668.66,927.29 L669.52,928.90 L670.38,930.50 L671.26,932.08 L672.16,933.65 L673.06,935.20 L673.99,936.73 L674.93,938.25 L675.88,939.75 L676.85,941.23 L677.83,942.70 L678.83,944.15 L679.85,945.59 L680.88,947.00 L681.93,948.40 L683.00,949.78 L684.08,951.14 L685.18,952.48 L686.29,953.80 L687.42,955.10 L688.57,956.39 L689.74,957.65 L690.93,958.89 L692.13,960.11 L693.36,961.31 L694.60,962.49 L695.85,963.65 L697.13,964.79 L698.42,965.91 L699.73,967.01 L701.05,968.09 L702.39,969.15 L703.74,970.19 L705.11,971.21 L706.49,972.21 L707.88,973.19 L709.29,974.16 L710.71,975.10 L712.15,976.02 L713.59,976.93 L715.05,977.82 L716.52,978.69 L718.00,979.54 L719.49,980.37 L720.99,981.18 L722.50,981.98 L724.02,982.76 L725.55,983.52 L727.08,984.26 L728.63,984.99 L730.18,985.69 L731.74,986.39 L733.30,987.06 L734.88,987.72 L736.45,988.36 L738.04,988.98 L739.63,989.59 L741.22,990.18 L742.82,990.75 L744.42,991.31 L746.02,991.85 L747.63,992.38 L749.25,992.89 L750.86,993.39 L752.47,993.87 L754.09,994.33 L755.71,994.78 L757.33,995.22 L758.95,995.64 L760.57,996.04 L762.19,996.43 L763.80,996.81 L765.42,997.17 L767.04,997.52 L768.65,997.85 L770.26,998.17 L771.87,998.48 L773.48,998.77 L775.09,999.05 L776.70,999.32 L778.31,999.58 L779.92,999.83 L781.52,1000.06 L783.12,1000.29 L784.73,1000.50 L786.33,1000.70 L787.93,1000.90 L789.53,1001.08 L791.13,1001.26 L792.73,1001.42 L794.33,1001.58 L795.93,1001.73 L797.53,1001.87 L799.13,1002.00 L800.72,1002.13 L802.32,1002.25 L803.91,1002.36 L805.51,1002.46 L807.11,1002.56 L808.70,1002.66 L810.30,1002.74 L811.89,1002.83 L813.48,1002.91 L815.08,1002.98 L816.67,1003.05 L818.27,1003.12 L819.86,1003.18 L821.46,1003.24 L823.05,1003.29 L824.64,1003.35 L826.24,1003.40 L827.83,1003.45 L829.43,1003.50 L831.02,1003.54 L832.62,1003.59 L834.22,1003.63 L835.81,1003.68 L837.41,1003.72 L839.01,1003.77 L840.60,1003.81 L842.20,1003.85 L843.80,1003.89 L845.40,1003.93 L847.00,1003.97 L848.60,1004.01 L850.19,1004.05 L851.79,1004.09 L853.39,1004.13 L855.00,1004.16 L856.60,1004.20 L858.20,1004.24 L859.80,1004.27 L861.40,1004.31 L863.00,1004.34 L864.60,1004.37 L866.21,1004.41 L867.81,1004.44 L869.41,1004.47 L871.01,1004.50 L872.62,1004.53 L874.22,1004.56 L875.82,1004.59 L877.43,1004.62 L879.03,1004.65 L880.64,1004.68 L882.24,1004.71 L883.85,1004.74 L885.45,1004.76 L887.06,1004.79 L888.66,1004.82 L890.27,1004.84 L891.87,1004.87 L893.48,1004.89 L895.09,1004.92 L896.69,1004.94 L898.30,1004.96 L899.91,1004.99 L901.51,1005.01 L903.12,1005.03 L904.73,1005.05 L906.34,1005.07 L907.94,1005.09 L909.55,1005.11 L911.16,1005.13 L912.77,1005.15 L914.37,1005.17 L915.98,1005.19 L917.59,1005.21 L919.20,1005.23 L920.81,1005.25 L922.42,1005.26 L924.03,1005.28 L925.63,1005.30 L927.24,1005.31 L928.85,1005.33 L930.46,1005.34 L932.07,1005.36 L933.68,1005.37 L935.29,1005.39 L936.90,1005.40 L938.51,1005.42 L940.12,1005.43 L941.73,1005.44 L943.34,1005.46 L944.95,1005.47 L946.56,1005.48 L948.16,1005.49 L949.77,1005.50 L951.38,1005.52 L952.99,1005.53 L954.60,1005.54 L956.21,1005.55 L957.82,1005.56 L959.43,1005.57 L961.04,1005.58 L962.65,1005.59 L964.26,1005.60 L965.87,1005.61 L967.48,1005.62 L969.09,1005.63 L970.70,1005.63 L972.31,1005.64 L973.92,1005.65 L975.53,1005.66 L977.14,1005.67 L978.74,1005.67 L980.35,1005.68 L981.96,1005.69 L983.57,1005.69 L985.18,1005.70 L986.79,1005.71 L988.40,1005.71 L990.01,1005.72 L991.62,1005.72 L993.23,1005.73 L994.84,1005.74 L996.44,1005.74 L998.05,1005.75 L999.66,1005.75 L1001.27,1005.76 L1002.88,1005.76 L1004.49,1005.76 L1006.10,1005.77 L1007.71,1005.77 L1009.31,1005.78 L1010.92,1005.78 L1012.53,1005.78 L1014.14,1005.79 L1015.75,1005.79 L1017.36,1005.79 L1018.97,1005.79 L1020.58,1005.80 L1022.18,1005.80 L1023.79,1005.80 L1025.40,1005.80 L1027.01,1005.81 L1028.62,1005.81 L1030.23,1005.81 L1031.84,1005.81 L1033.44,1005.81 L1035.05,1005.81 L1036.66,1005.81 L1038.27,1005.82 L1039.88,1005.82 L1041.49,1005.82 L1043.09,1005.82 L1044.70,1005.82 L1046.31,1005.82 L1047.92,1005.82 L1049.53,1005.82 L1051.14,1005.82 L1052.74,1005.82 L1054.35,1005.82 L1055.96,1005.82 L1057.57,1005.82 L1059.18,1005.82 L1060.78,1005.82 L1062.39,1005.82 L1064.00,1005.81 L1065.61,1005.81 L1067.22,1005.81 L1068.83,1005.81 L1070.43,1005.81 L1072.04,1005.81 L1073.65,1005.81 L1075.26,1005.81 L1076.87,1005.80 L1078.47,1005.80 L1080.08,1005.80 L1081.69,1005.80 L1083.30,1005.80 L1084.91,1005.80 L1086.51,1005.79 L1088.12,1005.79 L1089.73,1005.79 L1091.34,1005.79 L1092.95,1005.78 L1094.55,1005.78 L1096.16,1005.78 L1097.77,1005.78 L1099.38,1005.78 L1100.99,1005.77 L1102.59,1005.77 L1104.20,1005.77 L1105.81,1005.76 L1107.42,1005.76 L1109.03,1005.76 L1110.63,1005.76 L1112.24,1005.75 L1113.85,1005.75 L1115.46,1005.75 L1117.07,1005.75 L1118.67,1005.74 L1120.28,1005.74 L1121.89,1005.74 L1123.50,1005.73 L1125.11,1005.73 L1126.71,1005.73 L1128.32,1005.72 L1129.93,1005.72 L1131.54,1005.72 L1133.14,1005.72 L1134.75,1005.71 L1136.36,1005.71 L1137.97,1005.71 L1139.58,1005.70 L1141.18,1005.70 L1142.79,1005.70 L1144.40,1005.69 L1146.01,1005.69 L1147.62,1005.69 L1149.22,1005.69 L1150.83,1005.68 L1152.44,1005.68 L1154.05,1005.68 L1155.66,1005.67 L1157.26,1005.67 L1158.87,1005.67 L1160.48,1005.67 L1162.09,1005.66 L1163.70,1005.66 L1165.30,1005.66 L1166.91,1005.66 L1168.52,1005.65 L1170.13,1005.65 L1171.74,1005.65 L1173.34,1005.65 L1174.95,1005.64 L1176.56,1005.64 L1178.17,1005.64 L1179.78,1005.64 L1181.38,1005.64 L1182.99,1005.63 L1184.60,1005.63 L1186.21,1005.63 L1187.82,1005.63 L1189.42,1005.63 L1191.03,1005.62 L1192.64,1005.62 L1194.25,1005.62 L1195.86,1005.62 L1197.47,1005.62 L1199.07,1005.62 L1200.68,1005.62 L1202.29,1005.62 L1203.90,1005.61 L1205.51,1005.61 L1207.11,1005.61 L1208.72,1005.61 L1210.33,1005.61 L1211.94,1005.61 L1213.55,1005.61 L1215.16,1005.61 L1216.76,1005.61 L1218.37,1005.61 L1219.98,1005.61 L1221.59,1005.61 L1223.20,1005.61 L1224.81,1005.61 L1226.41,1005.61 L1228.02,1005.61 L1229.63,1005.61 L1231.24,1005.61 L1232.85,1005.62 L1234.46,1005.62 L1236.07,1005.62 L1237.67,1005.62 L1239.28,1005.62 L1240.89,1005.62 L1242.50,1005.63 L1244.11,1005.63 L1245.72,1005.63 L1247.33,1005.63 L1248.94,1005.63 L1250.54,1005.64 L1252.15,1005.64 L1253.76,1005.64 L1255.37,1005.65 L1256.98,1005.65 L1258.59,1005.65 L1260.20,1005.66 L1261.81,1005.66 L1263.41,1005.67 L1265.02,1005.67 L1266.63,1005.67 L1268.24,1005.68 L1269.85,1005.68 L1271.46,1005.69 L1273.07,1005.69 L1274.68,1005.70 L1276.29,1005.70 L1277.90,1005.71 L1279.51,1005.72 L1281.11,1005.72 L1282.72,1005.73 L1284.33,1005.74 L1285.94,1005.74 L1287.55,1005.75 L1289.16,1005.76 L1290.77,1005.76 L1292.37,1005.70" fill="none" stroke="#00ff00" stroke-width="5.4" stroke-linejoin="round" stroke-linecap="round"/>
<path d="M173.49,1005.50 L175.14,1005.50 L176.79,1005.50 L178.44,1005.50 L180.08,1005.50 L181.73,1005.50 L183.38,1005.50 L185.02,1005.50 L186.67,1005.50 L188.32,1005.50 L189.97,1005.50 L191.61,1005.50 L193.26,1005.50 L194.91,1005.50 L196.56,1005.50 L198.20,1005.50 L199.85,1005.50 L201.50,1005.50 L203.14,1005.50 L204.79,1005.50 L206.44,1005.50 L208.09,1005.50 L209.73,1005.50 L211.38,1005.50 L213.03,1005.50 L214.68,1005.50 L216.32,1005.50 L217.97,1005.50 L219.62,1005.50 L221.26,1005.50 L222.91,1005.50 L224.56,1005.50 L226.21,1005.50 L227.85,1005.50 L229.50,1005.50 L231.15,1005.50 L232.80,1005.50 L234.44,1005.50 L236.09,1005.50 L237.74,1005.50 L239.38,1005.50 L241.03,1005.50 L242.68,1005.50 L244.33,1005.50 L245.97,1005.50 L247.62,1005.50 L249.27,1005.50 L250.92,1005.50 L252.56,1005.50 L254.21,1005.50 L255.86,1005.50 L257.50,1005.50 L259.15,1005.50 L260.80,1005.50 L262.45,1005.50 L264.09,1005.50 L265.74,1005.50 L267.39,1005.50 L269.04,1005.50 L270.68,1005.50 L272.24,1004.80 L273.83,1003.97 L275.39,1003.10 L276.91,1002.19 L278.40,1001.25 L279.85,1000.28 L281.28,999.27 L282.67,998.22 L284.02,997.15 L285.35,996.04 L286.64,994.90 L287.91,993.72 L289.14,992.52 L290.34,991.28 L291.52,990.02 L292.66,988.72 L293.78,987.40 L294.87,986.05 L295.93,984.67 L296.96,983.27 L297.97,981.84 L298.95,980.38 L299.91,978.90 L300.84,977.39 L301.75,975.86 L302.63,974.31 L303.50,972.73 L304.33,971.13 L305.15,969.51 L305.94,967.87 L306.71,966.21 L307.46,964.52 L308.19,962.82 L308.90,961.10 L309.60,959.36 L310.27,957.61 L310.92,955.84 L311.56,954.05 L312.17,952.24 L312.77,950.43 L313.36,948.59 L313.93,946.74 L314.48,944.88 L315.02,943.01 L315.54,941.12 L316.05,939.22 L316.54,937.32 L317.02,935.40 L317.49,933.47 L317.95,931.53 L318.40,929.58 L318.83,927.63 L319.25,925.67 L319.67,923.70 L320.07,921.72 L320.46,919.74 L320.85,917.75 L321.23,915.76 L321.60,913.77 L321.96,911.77 L322.32,909.77 L322.66,907.76 L323.01,905.76 L323.35,903.75 L323.68,901.75 L324.01,899.74 L324.33,897.74 L324.66,895.73 L324.97,893.73 L325.29,891.72 L325.60,889.72 L325.90,887.72 L326.20,885.72 L326.50,883.71 L326.80,881.71 L327.09,879.71 L327.38,877.71 L327.66,875.71 L327.94,873.71 L328.22,871.72 L328.49,869.72 L328.76,867.72 L329.03,865.72 L329.29,863.73 L329.56,861.73 L329.81,859.73 L330.07,857.74 L330.32,855.74 L330.57,853.75 L330.81,851.75 L331.06,849.76 L331.30,847.77 L331.53,845.77 L331.77,843.78 L332.00,841.79 L332.22,839.80 L332.45,837.81 L332.67,835.81 L332.89,833.82 L333.11,831.83 L333.33,829.84 L333.54,827.85 L333.75,825.86 L333.95,823.87 L334.16,821.88 L334.36,819.90 L334.56,817.91 L334.76,815.92 L334.96,813.93 L335.15,811.94 L335.34,809.95 L335.53,807.97 L335.72,805.98 L335.91,803.99 L336.09,802.01 L336.27,800.02 L336.45,798.03 L336.63,796.05 L336.80,794.06 L336.98,792.07 L337.15,790.09 L337.32,788.10 L337.49,786.12 L337.66,784.13 L337.82,782.15 L337.99,780.16 L338.15,778.17 L338.31,776.19 L338.47,774.20 L338.63,772.22 L338.79,770.23 L338.94,768.25 L339.10,766.26 L339.25,764.28 L339.40,762.29 L339.56,760.31 L339.71,758.33 L339.86,756.34 L340.00,754.36 L340.15,752.37 L340.30,750.39 L340.44,748.40 L340.59,746.42 L340.73,744.43 L340.87,742.45 L341.02,740.46 L341.16,738.48 L341.30,736.49 L341.44,734.50 L341.58,732.52 L341.72,730.53 L341.86,728.55 L342.00,726.56 L342.14,724.58 L342.27,722.59 L342.41,720.60 L342.55,718.62 L342.68,716.63 L342.82,714.65 L342.95,712.66 L343.09,710.67 L343.22,708.69 L343.36,706.70 L343.49,704.71 L343.62,702.72 L343.75,700.74 L343.89,698.75 L344.02,696.76 L344.15,694.77 L344.28,692.79 L344.41,690.80 L344.54,688.81 L344.67,686.82 L344.79,684.83 L344.92,682.85 L345.05,680.86 L345.18,678.87 L345.30,676.88 L345.43,674.89 L345.56,672.90 L345.68,670.91 L345.81,668.92 L345.93,666.93 L346.06,664.95 L346.18,662.96 L346.30,660.97 L346.43,658.98 L346.55,656.99 L346.67,655.00 L346.79,653.01 L346.91,651.02 L347.03,649.02 L347.15,647.03 L347.27,645.04 L347.39,643.05 L347.51,641.06 L347.63,639.07 L347.75,637.08 L347.87,635.09 L347.99,633.09 L348.10,631.10 L348.22,629.11 L348.34,627.12 L348.45,625.13 L348.57,623.13 L348.69,621.14 L348.80,619.15 L348.92,617.16 L349.03,615.16 L349.14,613.17 L349.26,611.18 L349.37,609.18 L349.48,607.19 L349.60,605.20 L349.71,603.20 L349.82,601.21 L349.93,599.21 L350.04,597.22 L350.16,595.22 L350.27,593.23 L350.38,591.23 L350.49,589.24 L350.60,587.24 L350.71,585.25 L350.81,583.25 L350.92,581.26 L351.03,579.26 L351.14,577.27 L351.25,575.27 L351.35,573.27 L351.46,571.28 L351.57,569.28 L351.68,567.28 L351.78,565.29 L351.89,563.29 L351.99,561.29 L352.10,559.29 L352.20,557.30 L352.31,555.30 L352.41,553.30 L352.52,551.30 L352.62,549.30 L352.73,547.30 L352.83,545.31 L352.93,543.31 L353.04,541.31 L353.14,539.31 L353.24,537.31 L353.34,535.31 L353.44,533.31 L353.55,531.31 L353.65,529.31 L353.75,527.31 L353.85,525.31 L353.95,523.31 L354.05,521.31 L354.15,519.31 L354.25,517.30 L354.35,515.30 L354.45,513.30 L354.55,511.30 L354.65,509.30 L354.75,507.29 L354.85,505.29 L354.94,503.29 L355.04,501.29 L355.14,499.28 L355.24,497.28 L355.34,495.28 L355.43,493.27 L355.53,491.27 L355.63,489.27 L355.72,487.26 L355.82,485.26 L355.92,483.25 L356.01,481.25 L356.11,479.24 L356.21,477.24 L356.30,475.23 L356.40,473.23 L356.49,471.22 L356.59,469.21 L356.68,467.21 L356.78,465.20 L356.87,463.19 L356.97,461.19 L357.06,459.18 L357.16,457.17 L357.25,455.17 L357.34,453.16 L357.44,451.15 L357.53,449.14 L357.62,447.13 L357.72,445.12 L357.81,443.12 L357.90,441.11 L358.00,439.10 L358.09,437.09 L358.18,435.08 L358.27,433.07 L358.37,431.06 L358.46,429.05 L358.55,427.04 L358.64,425.03 L358.74,423.02 L358.83,421.00 L358.92,418.99 L359.01,416.98 L359.10,414.97 L359.19,412.96 L359.29,410.94 L359.38,408.93 L359.47,406.92 L359.56,404.91 L359.65,402.89 L359.74,400.88 L359.83,398.87 L359.92,396.86 L360.01,394.84 L360.11,392.83 L360.20,390.82 L360.29,388.80 L360.38,386.79 L360.47,384.78 L360.56,382.77 L360.65,380.75 L360.75,378.74 L360.84,376.73 L360.93,374.72 L361.02,372.71 L361.11,370.70 L361.21,368.69 L361.30,366.68 L361.39,364.67 L361.48,362.66 L361.58,360.65 L361.67,358.64 L361.76,356.63 L361.86,354.63 L361.95,352.62 L362.05,350.61 L362.14,348.61 L362.24,346.60 L362.33,344.60 L362.43,342.59 L362.52,340.59 L362.62,338.59 L362.72,336.58 L362.81,334.58 L362.91,332.58 L363.01,330.58 L363.11,328.59 L363.20,326.59 L363.30,324.59 L363.40,322.59 L363.50,320.60 L363.60,318.61 L363.70,316.61 L363.80,314.62 L363.91,312.63 L364.01,310.64 L364.11,308.65 L364.21,306.66 L364.32,304.67 L364.42,302.69 L364.53,300.70 L364.63,298.72 L364.74,296.74 L364.84,294.76 L364.95,292.78 L365.06,290.80 L365.17,288.82 L365.28,286.85 L365.39,284.87 L365.50,282.90 L365.61,280.93 L365.72,278.96 L365.83,276.99 L365.94,275.02 L366.06,273.06 L366.17,271.09 L366.29,269.13 L366.40,267.17 L366.52,265.21 L366.64,263.25 L366.76,261.30 L366.87,259.34 L366.99,257.39 L367.12,255.44 L367.24,253.49 L367.36,251.54 L367.48,249.60 L367.61,247.65 L367.73,245.71 L367.86,243.77 L367.99,241.83 L368.11,239.90 L368.24,237.96 L368.37,236.03 L368.50,234.10 L368.63,232.17 L368.77,230.25 L368.90,228.32 L369.03,226.39 L369.17,224.47 L369.30,222.54 L369.44,220.61 L369.58,218.68 L369.72,216.75 L369.86,214.81 L370.00,212.86 L370.14,210.92 L370.28,208.96 L370.43,207.00 L370.57,205.04 L370.72,203.06 L370.86,201.08 L371.01,199.09 L371.16,197.09 L371.30,195.08 L371.45,193.06 L371.60,191.03 L371.75,188.98 L371.91,186.93 L372.06,184.86 L372.21,182.77 L372.36,180.68 L372.52,178.56 L372.67,176.43 L372.83,174.29 L372.99,172.13 L373.14,169.95 L373.30,167.75 L373.46,165.53 L373.62,163.30 L373.78,161.04 L373.94,158.76 L374.10,156.46 L374.27,154.14 L374.43,151.80 L374.59,149.43 L374.76,147.04 L374.92,144.63 L375.09,142.20 L375.26,139.77 L375.43,137.35 L375.61,134.94 L375.80,132.55 L375.99,130.19 L376.19,127.88 L376.40,125.62 L376.62,123.42 L376.85,121.28 L377.09,119.23 L377.34,117.27 L377.61,115.40 L377.90,113.64 L378.20,111.99 L378.52,110.48 L378.86,109.09 L379.21,107.85 L379.59,106.77 L379.98,105.87 L380.38,105.16 L380.79,104.67 L381.20,104.41 L381.62,104.41 L382.04,104.69 L382.45,105.25 L382.85,106.13 L383.25,107.33 L383.63,108.83 L384.00,110.61 L384.36,112.63 L384.71,114.88 L385.04,117.31 L385.37,119.90 L385.68,122.63 L385.98,125.46 L386.26,128.36 L386.53,131.32 L386.79,134.29 L387.03,137.25 L387.26,140.18 L387.47,143.04 L387.67,145.81 L387.86,148.45 L388.03,150.95 L388.18,153.26 L388.31,155.39 L388.44,157.35 L388.55,159.18 L388.66,160.90 L388.76,162.55 L388.85,164.16 L388.95,165.75 L389.05,167.36 L389.15,169.02 L389.25,170.73 L389.36,172.48 L389.47,174.27 L389.59,176.10 L389.71,177.97 L389.83,179.87 L389.96,181.80 L390.09,183.76 L390.22,185.74 L390.36,187.73 L390.50,189.75 L390.64,191.77 L390.78,193.81 L390.93,195.85 L391.08,197.89 L391.23,199.94 L391.39,201.98 L391.54,204.02 L391.70,206.05 L391.86,208.08 L392.03,210.11 L392.19,212.14 L392.35,214.16 L392.52,216.18 L392.69,218.20 L392.86,220.22 L393.03,222.23 L393.20,224.25 L393.37,226.26 L393.54,228.27 L393.71,230.27 L393.88,232.28 L394.06,234.28 L394.23,236.28 L394.40,238.28 L394.57,240.28 L394.74,242.28 L394.91,244.27 L395.08,246.27 L395.25,248.26 L395.42,250.25 L395.59,252.24 L395.75,254.23 L395.92,256.22 L396.08,258.21 L396.24,260.20 L396.40,262.19 L396.55,264.18 L396.71,266.17 L396.86,268.15 L397.01,270.14 L397.16,272.13 L397.30,274.11 L397.44,276.10 L397.58,278.09 L397.72,280.08 L397.85,282.06 L397.98,284.05 L398.10,286.04 L398.23,288.03 L398.35,290.02 L398.46,292.01 L398.57,294.00 L398.68,295.99 L398.79,297.98 L398.89,299.98 L398.99,301.97 L399.09,303.96 L399.19,305.95 L399.28,307.95 L399.37,309.94 L399.45,311.94 L399.54,313.93 L399.62,315.93 L399.70,317.92 L399.78,319.92 L399.85,321.92 L399.92,323.91 L399.99,325.91 L400.06,327.91 L400.13,329.91 L400.19,331.90 L400.25,333.90 L400.31,335.90 L400.37,337.90 L400.43,339.90 L400.49,341.90 L400.54,343.90 L400.59,345.90 L400.64,347.90 L400.69,349.90 L400.74,351.90 L400.79,353.90 L400.83,355.90 L400.88,357.90 L400.92,359.91 L400.96,361.91 L401.01,363.91 L401.05,365.91 L401.09,367.91 L401.13,369.92 L401.16,371.92 L401.20,373.92 L401.24,375.93 L401.28,377.93 L401.31,379.93 L401.35,381.94 L401.38,383.94 L401.42,385.94 L401.46,387.95 L401.49,389.95 L401.53,391.95 L401.56,393.96 L401.60,395.96 L401.63,397.96 L401.67,399.97 L401.71,401.97 L401.74,403.98 L401.78,405.98 L401.82,407.98 L401.85,409.99 L401.89,411.99 L401.93,414.00 L401.97,416.00 L402.01,418.00 L402.06,420.01 L402.10,422.01 L402.14,424.02 L402.19,426.02 L402.23,428.02 L402.28,430.03 L402.33,432.03 L402.38,434.03 L402.43,436.04 L402.48,438.04 L402.54,440.04 L402.59,442.05 L402.65,444.05 L402.71,446.05 L402.77,448.05 L402.83,450.05 L402.90,452.06 L402.96,454.06 L403.03,456.06 L403.10,458.06 L403.18,460.06 L403.25,462.06 L403.33,464.06 L403.40,466.07 L403.48,468.07 L403.56,470.07 L403.65,472.07 L403.73,474.07 L403.82,476.07 L403.91,478.07 L404.00,480.07 L404.09,482.06 L404.18,484.06 L404.28,486.06 L404.38,488.06 L404.48,490.06 L404.58,492.06 L404.68,494.06 L404.78,496.05 L404.89,498.05 L405.00,500.05 L405.11,502.05 L405.22,504.04 L405.33,506.04 L405.44,508.04 L405.56,510.04 L405.68,512.03 L405.79,514.03 L405.92,516.03 L406.04,518.02 L406.16,520.02 L406.29,522.01 L406.41,524.01 L406.54,526.00 L406.67,528.00 L406.80,529.99 L406.93,531.99 L407.07,533.98 L407.20,535.98 L407.34,537.97 L407.48,539.97 L407.62,541.96 L407.76,543.96 L407.91,545.95 L408.05,547.94 L408.20,549.94 L408.34,551.93 L408.49,553.92 L408.64,555.92 L408.79,557.91 L408.95,559.90 L409.10,561.89 L409.26,563.89 L409.41,565.88 L409.57,567.87 L409.73,569.86 L409.89,571.85 L410.05,573.84 L410.22,575.84 L410.38,577.83 L410.55,579.82 L410.72,581.81 L410.88,583.80 L411.05,585.79 L411.22,587.78 L411.40,589.77 L411.57,591.76 L411.74,593.75 L411.92,595.74 L412.10,597.73 L412.28,599.72 L412.45,601.71 L412.64,603.70 L412.82,605.68 L413.00,607.67 L413.18,609.66 L413.37,611.65 L413.55,613.64 L413.74,615.63 L413.93,617.61 L414.12,619.60 L414.31,621.59 L414.50,623.58 L414.69,625.56 L414.89,627.55 L415.08,629.54 L415.27,631.52 L415.47,633.51 L415.67,635.50 L415.87,637.48 L416.07,639.47 L416.27,641.46 L416.47,643.44 L416.67,645.43 L416.87,647.41 L417.08,649.40 L417.28,651.38 L417.49,653.37 L417.69,655.35 L417.90,657.34 L418.11,659.32 L418.32,661.31 L418.53,663.29 L418.74,665.28 L418.95,667.26 L419.16,669.24 L419.38,671.23 L419.59,673.21 L419.81,675.19 L420.02,677.18 L420.24,679.16 L420.46,681.14 L420.67,683.12 L420.89,685.11 L421.11,687.09 L421.33,689.07 L421.55,691.05 L421.77,693.04 L422.00,695.02 L422.22,697.00 L422.44,698.98 L422.67,700.96 L422.89,702.94 L423.12,704.92 L423.34,706.91 L423.57,708.89 L423.80,710.87 L424.02,712.85 L424.25,714.83 L424.48,716.81 L424.71,718.79 L424.94,720.77 L425.17,722.75 L425.40,724.73 L425.64,726.71 L425.87,728.69 L426.10,730.66 L426.33,732.64 L426.57,734.62 L426.80,736.60 L427.04,738.58 L427.27,740.56 L427.51,742.54 L427.74,744.51 L427.98,746.49 L428.22,748.47 L428.45,750.45 L428.69,752.43 L428.93,754.40 L429.17,756.38 L429.41,758.36 L429.64,760.33 L429.88,762.31 L430.12,764.29 L430.36,766.26 L430.60,768.24 L430.84,770.22 L431.09,772.19 L431.33,774.17 L431.57,776.14 L431.81,778.12 L432.06,780.10 L432.30,782.07 L432.55,784.05 L432.80,786.02 L433.04,787.99 L433.29,789.97 L433.55,791.94 L433.80,793.92 L434.05,795.89 L434.31,797.86 L434.57,799.83 L434.83,801.81 L435.09,803.78 L435.35,805.75 L435.62,807.72 L435.89,809.69 L436.16,811.66 L436.43,813.63 L436.71,815.60 L436.98,817.57 L437.27,819.54 L437.55,821.51 L437.84,823.48 L438.13,825.44 L438.42,827.41 L438.72,829.38 L439.02,831.34 L439.32,833.31 L439.63,835.27 L439.94,837.24 L440.25,839.20 L440.57,841.16 L440.89,843.13 L441.21,845.09 L441.54,847.05 L441.88,849.01 L442.22,850.97 L442.56,852.93 L442.91,854.89 L443.26,856.84 L443.61,858.80 L443.97,860.76 L444.34,862.71 L444.70,864.66 L445.08,866.61 L445.46,868.56 L445.84,870.51 L446.22,872.46 L446.61,874.40 L447.01,876.35 L447.41,878.29 L447.81,880.22 L448.22,882.16 L448.63,884.09 L449.05,886.02 L449.47,887.95 L449.90,889.88 L450.33,891.80 L450.77,893.72 L451.21,895.64 L451.65,897.55 L452.10,899.46 L452.55,901.36 L453.01,903.27 L453.48,905.17 L453.94,907.06 L454.42,908.95 L454.89,910.84 L455.37,912.72 L455.86,914.60 L456.35,916.48 L456.85,918.35 L457.35,920.21 L457.87,922.07 L458.40,923.93 L458.93,925.77 L459.49,927.61 L460.06,929.45 L460.64,931.27 L461.25,933.09 L461.88,934.90 L462.53,936.70 L463.20,938.49 L463.90,940.27 L464.63,942.04 L465.38,943.80 L466.17,945.56 L466.98,947.29 L467.82,949.02 L468.69,950.73 L469.59,952.43 L470.51,954.12 L471.46,955.78 L472.43,957.43 L473.43,959.07 L474.46,960.68 L475.50,962.28 L476.57,963.85 L477.66,965.41 L478.78,966.94 L479.91,968.45 L481.07,969.94 L482.25,971.41 L483.44,972.84 L484.66,974.26 L485.89,975.64 L487.15,977.00 L488.42,978.34 L489.70,979.64 L491.00,980.91 L492.32,982.15 L493.66,983.36 L495.00,984.54 L496.37,985.68 L497.74,986.80 L499.13,987.87 L500.53,988.91 L501.94,989.92 L503.37,990.89 L504.80,991.81 L506.25,992.70 L507.70,993.56 L509.16,994.37 L510.63,995.14 L512.11,995.86 L513.60,996.55 L515.10,997.20 L516.60,997.81 L518.10,998.38 L519.62,998.92 L521.14,999.42 L522.67,999.89 L524.20,1000.32 L525.74,1000.73 L527.29,1001.10 L528.84,1001.45 L530.39,1001.77 L531.95,1002.06 L533.52,1002.33 L535.09,1002.58 L536.66,1002.80 L538.24,1003.00 L539.82,1003.18 L541.41,1003.35 L542.99,1003.49 L544.58,1003.62 L546.18,1003.73 L547.77,1003.83 L549.37,1003.92 L550.97,1003.99 L552.58,1004.05 L554.18,1004.11 L555.79,1004.15 L557.40,1004.19 L559.00,1004.23 L560.61,1004.26 L562.22,1004.28 L563.83,1004.31 L565.44,1004.33 L567.05,1004.35 L568.66,1004.38 L570.27,1004.40 L571.88,1004.42 L573.49,1004.44 L575.10,1004.46 L576.71,1004.49 L578.32,1004.51 L579.93,1004.53 L581.54,1004.55 L583.15,1004.57 L584.76,1004.59 L586.37,1004.61 L587.98,1004.63 L589.59,1004.65 L591.20,1004.66 L592.81,1004.68 L594.42,1004.70 L596.03,1004.72 L597.64,1004.74 L599.25,1004.75 L600.86,1004.77 L602.46,1004.79 L604.07,1004.81 L605.68,1004.82 L607.29,1004.84 L608.90,1004.85 L610.51,1004.87 L612.12,1004.89 L613.73,1004.90 L615.34,1004.92 L616.95,1004.93 L618.56,1004.95 L620.17,1004.96 L621.78,1004.97 L623.39,1004.99 L624.99,1005.00 L626.60,1005.01 L628.21,1005.03 L629.82,1005.04 L631.43,1005.05 L633.04,1005.07 L634.65,1005.08 L636.26,1005.09 L637.87,1005.10 L639.48,1005.11 L641.08,1005.12 L642.69,1005.14 L644.30,1005.15 L645.91,1005.16 L647.52,1005.17 L649.13,1005.18 L650.74,1005.19 L652.35,1005.20 L653.95,1005.21 L655.56,1005.22 L657.17,1005.23 L658.78,1005.24 L660.39,1005.24 L662.00,1005.25 L663.61,1005.26 L665.22,1005.27 L666.82,1005.28 L668.43,1005.29 L670.04,1005.29 L671.65,1005.30 L673.26,1005.31 L674.87,1005.32 L676.48,1005.32 L678.08,1005.33 L679.69,1005.34 L681.30,1005.34 L682.91,1005.35 L684.52,1005.35 L686.13,1005.36 L687.73,1005.37 L689.34,1005.37 L690.95,1005.38 L692.56,1005.38 L694.17,1005.39 L695.78,1005.39 L697.39,1005.40 L698.99,1005.40 L700.60,1005.41 L702.21,1005.41 L703.82,1005.41 L705.43,1005.42 L707.03,1005.42 L708.64,1005.43 L710.25,1005.43 L711.86,1005.43 L713.47,1005.44 L715.08,1005.44 L716.68,1005.44 L718.29,1005.45 L719.90,1005.45 L721.51,1005.45 L723.12,1005.45 L724.73,1005.46 L726.33,1005.46 L727.94,1005.46 L729.55,1005.46 L731.16,1005.46 L732.77,1005.47 L734.37,1005.47 L735.98,1005.47 L737.59,1005.47 L739.20,1005.47 L740.81,1005.47 L742.41,1005.47 L744.02,1005.47 L745.63,1005.47 L747.24,1005.48 L748.85,1005.48 L750.45,1005.48 L752.06,1005.48 L753.67,1005.48 L755.28,1005.48 L756.89,1005.48 L758.49,1005.48 L760.10,1005.48 L761.71,1005.48 L763.32,1005.48 L764.93,1005.48 L766.53,1005.48 L768.14,1005.48 L769.75,1005.47 L771.36,1005.47 L772.97,1005.47 L774.57,1005.47 L776.18,1005.47 L777.79,1005.47 L779.40,1005.47 L781.00,1005.47 L782.61,1005.47 L784.22,1005.46 L785.83,1005.46 L787.44,1005.46 L789.04,1005.46 L790.65,1005.46 L792.26,1005.46 L793.87,1005.46 L795.47,1005.45 L797.08,1005.45 L798.69,1005.45 L800.30,1005.45 L801.91,1005.45 L803.51,1005.44 L805.12,1005.44 L806.73,1005.44 L808.34,1005.44 L809.95,1005.43 L811.55,1005.43 L813.16,1005.43 L814.77,1005.43 L816.38,1005.43 L817.98,1005.42 L819.59,1005.42 L821.20,1005.42 L822.81,1005.42 L824.41,1005.41 L826.02,1005.41 L827.63,1005.41 L829.24,1005.40 L830.85,1005.40 L832.45,1005.40 L834.06,1005.40 L835.67,1005.39 L837.28,1005.39 L838.88,1005.39 L840.49,1005.39 L842.10,1005.38 L843.71,1005.38 L845.32,1005.38 L846.92,1005.37 L848.53,1005.37 L850.14,1005.37 L851.75,1005.37 L853.35,1005.36 L854.96,1005.36 L856.57,1005.36 L858.18,1005.35 L859.79,1005.35 L861.39,1005.35 L863.00,1005.35 L864.61,1005.34 L866.22,1005.34 L867.82,1005.34 L869.43,1005.34 L871.04,1005.33 L872.65,1005.33 L874.26,1005.33 L875.86,1005.32 L877.47,1005.32 L879.08,1005.32 L880.69,1005.32 L882.29,1005.31 L883.90,1005.31 L885.51,1005.31 L887.12,1005.31 L888.73,1005.30 L890.33,1005.30 L891.94,1005.30 L893.55,1005.30 L895.16,1005.30 L896.77,1005.29 L898.37,1005.29 L899.98,1005.29 L901.59,1005.29 L903.20,1005.28 L904.80,1005.28 L906.41,1005.28 L908.02,1005.28 L909.63,1005.28 L911.24,1005.28 L912.84,1005.27 L914.45,1005.27 L916.06,1005.27 L917.67,1005.27 L919.28,1005.27 L920.88,1005.27 L922.49,1005.27 L924.10,1005.26 L925.71,1005.26 L927.32,1005.26 L928.92,1005.26 L930.53,1005.26 L932.14,1005.26 L933.75,1005.26 L935.36,1005.26 L936.96,1005.26 L938.57,1005.26 L940.18,1005.26 L941.79,1005.26 L943.40,1005.25 L945.00,1005.25 L946.61,1005.25 L948.22,1005.25 L949.83,1005.25 L951.44,1005.25 L953.05,1005.25 L954.65,1005.25 L956.26,1005.25 L957.87,1005.25 L959.48,1005.25 L961.09,1005.25 L962.69,1005.25 L964.30,1005.25 L965.91,1005.25 L967.52,1005.25 L969.13,1005.25 L970.73,1005.26 L972.34,1005.26 L973.95,1005.26 L975.56,1005.26 L977.17,1005.26 L978.78,1005.26 L980.38,1005.26 L981.99,1005.26 L983.60,1005.26 L985.21,1005.26 L986.82,1005.26 L988.42,1005.26 L990.03,1005.26 L991.64,1005.26 L993.25,1005.27 L994.86,1005.27 L996.47,1005.27 L998.07,1005.27 L999.68,1005.27 L1001.29,1005.27 L1002.90,1005.27 L1004.51,1005.27 L1006.12,1005.28 L1007.72,1005.28 L1009.33,1005.28 L1010.94,1005.28 L1012.55,1005.28 L1014.16,1005.28 L1015.77,1005.28 L1017.37,1005.29 L1018.98,1005.29 L1020.59,1005.29 L1022.20,1005.29 L1023.81,1005.29 L1025.41,1005.29 L1027.02,1005.29 L1028.63,1005.30 L1030.24,1005.30 L1031.85,1005.30 L1033.46,1005.30 L1035.06,1005.30 L1036.67,1005.30 L1038.28,1005.31 L1039.89,1005.31 L1041.50,1005.31 L1043.11,1005.31 L1044.71,1005.31 L1046.32,1005.32 L1047.93,1005.32 L1049.54,1005.32 L1051.15,1005.32 L1052.76,1005.32 L1054.36,1005.33 L1055.97,1005.33 L1057.58,1005.33 L1059.19,1005.33 L1060.80,1005.33 L1062.41,1005.33 L1064.01,1005.34 L1065.62,1005.34 L1067.23,1005.34 L1068.84,1005.34 L1070.45,1005.34 L1072.06,1005.35 L1073.66,1005.35 L1075.27,1005.35 L1076.88,1005.35 L1078.49,1005.35 L1080.10,1005.36 L1081.71,1005.36 L1083.31,1005.36 L1084.92,1005.36 L1086.53,1005.36 L1088.14,1005.37 L1089.75,1005.37 L1091.36,1005.37 L1092.96,1005.37 L1094.57,1005.37 L1096.18,1005.38 L1097.79,1005.38 L1099.40,1005.38 L1101.01,1005.38 L1102.61,1005.38 L1104.22,1005.39 L1105.83,1005.39 L1107.44,1005.39 L1109.05,1005.39 L1110.66,1005.39 L1112.26,1005.39 L1113.87,1005.40 L1115.48,1005.40 L1117.09,1005.40 L1118.70,1005.40 L1120.31,1005.40 L1121.91,1005.41 L1123.52,1005.41 L1125.13,1005.41 L1126.74,1005.41 L1128.35,1005.41 L1129.96,1005.41 L1131.56,1005.42 L1133.17,1005.42 L1134.78,1005.42 L1136.39,1005.42 L1138.00,1005.42 L1139.60,1005.42 L1141.21,1005.42 L1142.82,1005.43 L1144.43,1005.43 L1146.04,1005.43 L1147.65,1005.43 L1149.25,1005.43 L1150.86,1005.43 L1152.47,1005.43 L1154.08,1005.43 L1155.69,1005.44 L1157.30,1005.44 L1158.90,1005.44 L1160.51,1005.44 L1162.12,1005.44 L1163.73,1005.44 L1165.34,1005.44 L1166.94,1005.44 L1168.55,1005.44 L1170.16,1005.44 L1171.77,1005.45 L1173.38,1005.45 L1174.99,1005.45 L1176.59,1005.45 L1178.20,1005.45 L1179.81,1005.45 L1181.42,1005.45 L1183.03,1005.45 L1184.63,1005.45 L1186.24,1005.45 L1187.85,1005.45 L1189.46,1005.45 L1191.07,1005.45 L1192.67,1005.45 L1194.28,1005.45 L1195.89,1005.45 L1197.50,1005.45 L1199.11,1005.45 L1200.72,1005.45 L1202.32,1005.45 L1203.93,1005.45 L1205.54,1005.45 L1207.15,1005.45 L1208.76,1005.45 L1210.36,1005.45 L1211.97,1005.45 L1213.58,1005.45 L1215.19,1005.45 L1216.80,1005.45 L1218.40,1005.45 L1220.01,1005.45 L1221.62,1005.45 L1223.23,1005.45 L1224.84,1005.44 L1226.44,1005.44 L1228.05,1005.44 L1229.66,1005.44 L1231.27,1005.44 L1232.88,1005.44 L1234.48,1005.44 L1236.09,1005.44 L1237.70,1005.44 L1239.31,1005.43 L1240.91,1005.43 L1242.52,1005.43 L1244.13,1005.43 L1245.74,1005.43 L1247.35,1005.43 L1248.95,1005.42 L1250.56,1005.42 L1252.17,1005.42 L1253.78,1005.42 L1255.39,1005.41 L1256.99,1005.41 L1258.60,1005.41 L1260.21,1005.41 L1261.82,1005.40 L1263.42,1005.40 L1265.03,1005.40 L1266.64,1005.40 L1268.25,1005.39 L1269.86,1005.39 L1271.46,1005.39 L1273.07,1005.38 L1274.68,1005.38 L1276.29,1005.38 L1277.89,1005.37 L1279.50,1005.37 L1281.11,1005.37 L1282.72,1005.36 L1284.32,1005.36 L1285.93,1005.36 L1287.54,1005.35 L1289.15,1005.35 L1290.75,1005.34 L1292.37,1005.40" fill="none" stroke="#0000ff" stroke-width="5.4" stroke-linejoin="round" stroke-linecap="round"/>
<path d="M173.49,1005.50 L175.12,1005.50 L176.75,1005.50 L178.38,1005.50 L180.01,1005.50 L181.64,1005.50 L183.27,1005.50 L184.90,1005.50 L186.53,1005.50 L188.16,1005.50 L189.79,1005.50 L191.42,1005.50 L193.05,1005.50 L194.68,1005.50 L196.31,1005.50 L197.93,1005.50 L199.56,1005.50 L201.19,1005.50 L202.82,1005.50 L204.45,1005.50 L206.08,1005.50 L207.71,1005.50 L209.34,1005.50 L210.97,1005.50 L212.60,1005.50 L214.23,1005.50 L215.86,1005.50 L217.49,1005.50 L219.12,1005.50 L220.75,1005.50 L222.38,1005.50 L224.00,1005.50 L225.63,1005.50 L227.26,1005.50 L228.89,1005.50 L230.52,1005.50 L232.15,1005.50 L233.78,1005.50 L235.41,1005.50 L237.04,1005.50 L238.67,1005.50 L240.30,1005.50 L241.93,1005.50 L243.56,1005.50 L245.19,1005.50 L246.82,1005.50 L248.45,1005.50 L250.07,1005.50 L251.70,1005.50 L253.33,1005.50 L254.96,1005.50 L256.59,1005.50 L258.22,1005.50 L259.85,1005.50 L261.48,1005.50 L263.11,1005.50 L264.74,1005.50 L266.37,1005.50 L268.00,1005.50 L269.63,1005.50 L271.26,1005.50 L272.89,1005.50 L274.52,1005.50 L276.14,1005.50 L277.77,1005.50 L279.40,1005.50 L281.03,1005.50 L282.66,1005.50 L284.29,1005.50 L285.92,1005.50 L287.55,1005.50 L289.10,1004.84 L290.59,1003.88 L292.06,1002.89 L293.49,1001.86 L294.90,1000.80 L296.27,999.71 L297.61,998.59 L298.93,997.43 L300.21,996.25 L301.47,995.03 L302.70,993.79 L303.90,992.52 L305.07,991.22 L306.22,989.89 L307.34,988.53 L308.43,987.15 L309.50,985.74 L310.54,984.31 L311.56,982.85 L312.55,981.37 L313.52,979.86 L314.47,978.33 L315.39,976.78 L316.29,975.21 L317.17,973.61 L318.03,971.99 L318.86,970.35 L319.68,968.70 L320.47,967.02 L321.24,965.32 L322.00,963.61 L322.73,961.87 L323.45,960.12 L324.15,958.35 L324.83,956.57 L325.49,954.77 L326.14,952.96 L326.76,951.13 L327.38,949.28 L327.97,947.43 L328.56,945.56 L329.12,943.68 L329.67,941.78 L330.21,939.88 L330.74,937.96 L331.25,936.03 L331.75,934.10 L332.23,932.15 L332.71,930.20 L333.17,928.23 L333.62,926.26 L334.06,924.28 L334.50,922.30 L334.92,920.31 L335.33,918.32 L335.73,916.32 L336.13,914.31 L336.51,912.30 L336.89,910.29 L337.26,908.28 L337.63,906.26 L337.99,904.24 L338.34,902.22 L338.69,900.20 L339.03,898.18 L339.37,896.16 L339.70,894.14 L340.03,892.13 L340.36,890.11 L340.69,888.10 L341.01,886.09 L341.33,884.08 L341.64,882.08 L341.96,880.09 L342.28,878.09 L342.59,876.11 L342.90,874.12 L343.21,872.14 L343.52,870.17 L343.83,868.20 L344.14,866.23 L344.45,864.26 L344.75,862.30 L345.06,860.34 L345.36,858.38 L345.66,856.43 L345.96,854.48 L346.26,852.53 L346.56,850.59 L346.86,848.64 L347.15,846.70 L347.45,844.76 L347.74,842.82 L348.03,840.88 L348.33,838.95 L348.62,837.01 L348.90,835.08 L349.19,833.14 L349.48,831.21 L349.77,829.28 L350.05,827.35 L350.33,825.41 L350.62,823.48 L350.90,821.55 L351.18,819.62 L351.46,817.69 L351.74,815.75 L352.02,813.82 L352.29,811.89 L352.57,809.95 L352.84,808.01 L353.12,806.07 L353.39,804.14 L353.66,802.19 L353.93,800.25 L354.20,798.31 L354.47,796.36 L354.74,794.41 L355.00,792.46 L355.27,790.50 L355.54,788.54 L355.80,786.58 L356.06,784.62 L356.33,782.65 L356.59,780.68 L356.85,778.71 L357.11,776.73 L357.37,774.75 L357.63,772.77 L357.89,770.79 L358.14,768.80 L358.40,766.81 L358.65,764.82 L358.91,762.83 L359.16,760.84 L359.41,758.84 L359.67,756.84 L359.92,754.85 L360.17,752.85 L360.42,750.85 L360.67,748.85 L360.91,746.85 L361.16,744.84 L361.41,742.84 L361.65,740.84 L361.90,738.84 L362.14,736.84 L362.39,734.83 L362.63,732.83 L362.87,730.83 L363.11,728.83 L363.35,726.84 L363.59,724.84 L363.83,722.84 L364.07,720.85 L364.31,718.85 L364.55,716.86 L364.78,714.87 L365.02,712.89 L365.25,710.90 L365.49,708.92 L365.72,706.94 L365.96,704.96 L366.19,702.99 L366.42,701.01 L366.65,699.04 L366.88,697.08 L367.12,695.12 L367.35,693.15 L367.59,691.19 L367.83,689.23 L368.07,687.27 L368.33,685.31 L368.58,683.34 L368.85,681.37 L369.13,679.40 L369.41,677.42 L369.71,675.44 L370.02,673.45 L370.34,671.46 L370.68,669.46 L371.03,667.45 L371.40,665.43 L371.78,663.40 L372.19,661.37 L372.61,659.32 L373.05,657.26 L373.51,655.18 L374.00,653.10 L374.51,651.00 L375.04,648.88 L375.60,646.76 L376.19,644.64 L376.79,642.56 L377.42,640.54 L378.06,638.61 L378.72,636.80 L379.39,635.12 L380.08,633.62 L380.78,632.31 L381.49,631.23 L382.21,630.40 L382.93,629.84 L383.66,629.59 L384.39,629.66 L385.12,630.10 L385.85,630.88 L386.57,631.99 L387.29,633.39 L388.01,635.06 L388.72,636.96 L389.42,639.07 L390.11,641.36 L390.79,643.79 L391.45,646.33 L392.11,648.96 L392.74,651.65 L393.36,654.37 L393.96,657.08 L394.53,659.77 L395.09,662.39 L395.62,664.91 L396.13,667.32 L396.61,669.58 L397.06,671.70 L397.50,673.69 L397.92,675.58 L398.32,677.39 L398.72,679.14 L399.12,680.85 L399.51,682.55 L399.91,684.25 L400.31,685.98 L400.72,687.73 L401.13,689.51 L401.56,691.30 L401.99,693.12 L402.42,694.95 L402.86,696.81 L403.30,698.67 L403.75,700.56 L404.20,702.45 L404.66,704.35 L405.11,706.26 L405.58,708.18 L406.04,710.11 L406.51,712.03 L406.97,713.96 L407.44,715.89 L407.91,717.82 L408.38,719.75 L408.86,721.68 L409.33,723.60 L409.81,725.52 L410.28,727.44 L410.76,729.36 L411.24,731.28 L411.72,733.19 L412.20,735.11 L412.69,737.02 L413.17,738.93 L413.66,740.84 L414.15,742.75 L414.64,744.65 L415.14,746.55 L415.63,748.46 L416.13,750.36 L416.64,752.25 L417.14,754.15 L417.65,756.04 L418.16,757.94 L418.67,759.83 L419.19,761.72 L419.70,763.61 L420.23,765.49 L420.75,767.38 L421.28,769.26 L421.81,771.14 L422.35,773.02 L422.89,774.90 L423.43,776.78 L423.98,778.65 L424.53,780.52 L425.08,782.39 L425.64,784.26 L426.20,786.13 L426.77,788.00 L427.34,789.86 L427.91,791.73 L428.49,793.59 L429.08,795.45 L429.67,797.30 L430.26,799.16 L430.86,801.02 L431.46,802.87 L432.07,804.72 L432.68,806.57 L433.30,808.42 L433.93,810.26 L434.57,812.10 L435.23,813.94 L435.90,815.77 L436.59,817.60 L437.31,819.41 L438.05,821.22 L438.81,823.03 L439.60,824.82 L440.43,826.60 L441.29,828.37 L442.19,830.13 L443.13,831.88 L444.10,833.61 L445.13,835.33 L446.20,837.03 L447.32,838.72 L448.48,840.37 L449.69,841.99 L450.93,843.53 L452.19,845.00 L453.47,846.36 L454.77,847.61 L456.07,848.72 L457.37,849.68 L458.66,850.46 L459.94,851.06 L461.19,851.45 L462.43,851.66 L463.65,851.67 L464.85,851.51 L466.03,851.18 L467.19,850.69 L468.34,850.05 L469.46,849.27 L470.57,848.34 L471.66,847.29 L472.73,846.12 L473.79,844.84 L474.83,843.46 L475.85,841.98 L476.85,840.42 L477.84,838.77 L478.81,837.06 L479.76,835.29 L480.70,833.46 L481.62,831.58 L482.53,829.67 L483.42,827.73 L484.30,825.77 L485.16,823.80 L486.00,821.82 L486.83,819.84 L487.65,817.88 L488.45,815.93 L489.24,813.98 L490.01,812.05 L490.77,810.13 L491.52,808.22 L492.26,806.32 L492.98,804.43 L493.70,802.54 L494.40,800.67 L495.09,798.80 L495.76,796.93 L496.43,795.08 L497.09,793.23 L497.74,791.39 L498.38,789.55 L499.01,787.72 L499.63,785.89 L500.24,784.07 L500.85,782.25 L501.44,780.44 L502.03,778.62 L502.61,776.81 L503.19,775.01 L503.76,773.20 L504.32,771.40 L504.88,769.59 L505.43,767.79 L505.98,765.99 L506.52,764.19 L507.06,762.38 L507.59,760.58 L508.12,758.77 L508.65,756.96 L509.17,755.15 L509.69,753.34 L510.21,751.53 L510.73,749.71 L511.24,747.88 L511.76,746.06 L512.27,744.22 L512.78,742.39 L513.29,740.55 L513.80,738.71 L514.30,736.86 L514.81,735.01 L515.31,733.16 L515.82,731.31 L516.32,729.45 L516.82,727.59 L517.32,725.72 L517.82,723.85 L518.32,721.98 L518.82,720.11 L519.32,718.23 L519.82,716.35 L520.32,714.47 L520.81,712.59 L521.31,710.70 L521.81,708.82 L522.30,706.93 L522.80,705.03 L523.30,703.14 L523.79,701.24 L524.29,699.34 L524.79,697.44 L525.29,695.54 L525.78,693.64 L526.28,691.73 L526.78,689.83 L527.28,687.92 L527.78,686.01 L528.28,684.10 L528.79,682.19 L529.29,680.28 L529.79,678.37 L530.30,676.45 L530.80,674.54 L531.31,672.62 L531.82,670.71 L532.33,668.79 L532.84,666.88 L533.35,664.96 L533.86,663.04 L534.38,661.12 L534.90,659.21 L535.42,657.29 L535.94,655.37 L536.46,653.45 L536.98,651.54 L537.51,649.62 L538.04,647.70 L538.57,645.79 L539.10,643.87 L539.64,641.96 L540.18,640.04 L540.72,638.13 L541.26,636.22 L541.80,634.31 L542.35,632.40 L542.90,630.49 L543.46,628.58 L544.01,626.67 L544.57,624.77 L545.13,622.86 L545.70,620.96 L546.27,619.06 L546.84,617.16 L547.41,615.26 L547.99,613.37 L548.57,611.48 L549.16,609.59 L549.75,607.70 L550.34,605.81 L550.93,603.93 L551.53,602.04 L552.14,600.16 L552.74,598.29 L553.36,596.41 L553.97,594.54 L554.59,592.67 L555.21,590.81 L555.84,588.94 L556.47,587.08 L557.11,585.23 L557.75,583.37 L558.40,581.52 L559.05,579.68 L559.70,577.83 L560.36,575.99 L561.03,574.16 L561.70,572.32 L562.37,570.49 L563.05,568.67 L563.74,566.85 L564.43,565.04 L565.13,563.23 L565.84,561.43 L566.55,559.64 L567.28,557.86 L568.01,556.08 L568.76,554.32 L569.51,552.57 L570.28,550.82 L571.06,549.09 L571.85,547.38 L572.65,545.67 L573.47,543.99 L574.30,542.31 L575.14,540.65 L576.01,539.01 L576.88,537.39 L577.78,535.78 L578.69,534.19 L579.62,532.62 L580.56,531.07 L581.53,529.54 L582.51,528.04 L583.52,526.55 L584.54,525.09 L585.59,523.65 L586.66,522.23 L587.75,520.84 L588.86,519.48 L589.99,518.14 L591.15,516.83 L592.33,515.54 L593.53,514.28 L594.74,513.04 L595.98,511.83 L597.24,510.65 L598.52,509.49 L599.82,508.36 L601.14,507.26 L602.47,506.18 L603.82,505.13 L605.19,504.11 L606.58,503.11 L607.98,502.14 L609.40,501.20 L610.84,500.29 L612.29,499.40 L613.75,498.54 L615.23,497.71 L616.73,496.91 L618.24,496.14 L619.76,495.39 L621.29,494.67 L622.83,493.97 L624.38,493.28 L625.94,492.62 L627.50,491.96 L629.06,491.31 L630.63,490.67 L632.20,490.03 L633.76,489.40 L635.32,488.76 L636.88,488.11 L638.43,487.46 L639.98,486.80 L641.51,486.13 L643.04,485.43 L644.55,484.72 L646.04,483.99 L647.53,483.23 L648.99,482.45 L650.44,481.63 L651.86,480.78 L653.26,479.89 L654.64,478.97 L656.00,478.00 L657.33,476.99 L658.63,475.92 L659.90,474.81 L661.14,473.65 L662.34,472.43 L663.51,471.15 L664.65,469.80 L665.75,468.40 L666.82,466.95 L667.86,465.45 L668.87,463.90 L669.86,462.31 L670.82,460.68 L671.76,459.02 L672.68,457.33 L673.58,455.62 L674.47,453.89 L675.34,452.14 L676.20,450.38 L677.05,448.62 L677.90,446.85 L678.73,445.08 L679.56,443.31 L680.39,441.54 L681.21,439.76 L682.02,437.99 L682.82,436.21 L683.62,434.44 L684.41,432.66 L685.20,430.88 L685.98,429.10 L686.75,427.32 L687.52,425.53 L688.29,423.75 L689.04,421.97 L689.79,420.18 L690.54,418.39 L691.28,416.60 L692.01,414.81 L692.74,413.02 L693.47,411.23 L694.19,409.44 L694.90,407.64 L695.61,405.85 L696.31,404.05 L697.01,402.25 L697.70,400.45 L698.39,398.65 L699.08,396.84 L699.76,395.04 L700.43,393.23 L701.10,391.43 L701.77,389.62 L702.43,387.81 L703.09,385.99 L703.74,384.18 L704.39,382.37 L705.03,380.55 L705.67,378.73 L706.31,376.91 L706.94,375.09 L707.57,373.27 L708.19,371.44 L708.82,369.62 L709.43,367.79 L710.05,365.96 L710.66,364.13 L711.26,362.30 L711.87,360.47 L712.47,358.63 L713.07,356.79 L713.66,354.95 L714.25,353.11 L714.84,351.27 L715.43,349.43 L716.01,347.58 L716.59,345.73 L717.16,343.88 L717.74,342.03 L718.31,340.18 L718.88,338.32 L719.45,336.47 L720.01,334.61 L720.57,332.75 L721.13,330.89 L721.69,329.02 L722.25,327.16 L722.80,325.29 L723.35,323.42 L723.90,321.55 L724.45,319.67 L725.00,317.80 L725.54,315.92 L726.09,314.04 L726.63,312.16 L727.17,310.27 L727.71,308.39 L728.24,306.50 L728.78,304.61 L729.32,302.72 L729.85,300.82 L730.38,298.93 L730.92,297.03 L731.45,295.13 L731.98,293.23 L732.51,291.32 L733.04,289.41 L733.56,287.51 L734.09,285.59 L734.62,283.68 L735.15,281.77 L735.67,279.85 L736.20,277.93 L736.73,276.01 L737.25,274.09 L737.78,272.17 L738.30,270.24 L738.83,268.32 L739.35,266.40 L739.88,264.47 L740.40,262.55 L740.93,260.62 L741.45,258.70 L741.98,256.78 L742.50,254.85 L743.02,252.93 L743.55,251.01 L744.07,249.09 L744.60,247.18 L745.12,245.26 L745.65,243.35 L746.17,241.44 L746.70,239.53 L747.22,237.62 L747.75,235.72 L748.28,233.82 L748.80,231.92 L749.33,230.02 L749.86,228.13 L750.39,226.25 L750.92,224.36 L751.45,222.48 L751.98,220.61 L752.51,218.74 L753.04,216.87 L753.57,215.01 L754.10,213.16 L754.64,211.30 L755.17,209.46 L755.70,207.62 L756.24,205.79 L756.78,203.96 L757.31,202.14 L757.85,200.32 L758.39,198.51 L758.93,196.71 L759.47,194.92 L760.02,193.13 L760.56,191.35 L761.11,189.57 L761.66,187.79 L762.22,186.02 L762.78,184.25 L763.35,182.48 L763.92,180.71 L764.50,178.94 L765.09,177.17 L765.69,175.39 L766.31,173.61 L766.93,171.83 L767.56,170.04 L768.20,168.24 L768.86,166.44 L769.53,164.62 L770.22,162.80 L770.92,160.97 L771.64,159.12 L772.37,157.26 L773.13,155.39 L773.90,153.50 L774.69,151.60 L775.50,149.69 L776.33,147.75 L777.18,145.80 L778.06,143.83 L778.95,141.85 L779.88,139.87 L780.82,137.89 L781.79,135.93 L782.78,134.00 L783.80,132.09 L784.84,130.22 L785.91,128.40 L787.00,126.63 L788.12,124.93 L789.27,123.29 L790.44,121.73 L791.64,120.26 L792.87,118.88 L794.13,117.61 L795.41,116.44 L796.73,115.39 L798.07,114.47 L799.45,113.68 L800.85,113.02 L802.27,112.48 L803.72,112.07 L805.18,111.78 L806.65,111.60 L808.14,111.53 L809.63,111.57 L811.12,111.72 L812.62,111.97 L814.11,112.31 L815.60,112.75 L817.08,113.27 L818.54,113.89 L819.99,114.58 L821.42,115.36 L822.83,116.21 L824.21,117.13 L825.56,118.12 L826.88,119.18 L828.17,120.29 L829.42,121.46 L830.64,122.69 L831.83,123.98 L832.98,125.31 L834.11,126.70 L835.20,128.13 L836.27,129.61 L837.31,131.12 L838.32,132.68 L839.31,134.28 L840.27,135.91 L841.21,137.58 L842.13,139.27 L843.02,141.00 L843.89,142.75 L844.75,144.52 L845.58,146.32 L846.40,148.13 L847.20,149.96 L847.98,151.81 L848.75,153.67 L849.51,155.54 L850.25,157.41 L850.98,159.30 L851.69,161.18 L852.40,163.07 L853.10,164.95 L853.79,166.84 L854.47,168.72 L855.14,170.60 L855.80,172.48 L856.46,174.36 L857.11,176.24 L857.74,178.12 L858.38,180.00 L859.00,181.88 L859.61,183.76 L860.22,185.63 L860.83,187.51 L861.42,189.39 L862.01,191.26 L862.60,193.14 L863.17,195.01 L863.75,196.89 L864.31,198.76 L864.87,200.64 L865.43,202.51 L865.98,204.39 L866.53,206.27 L867.07,208.14 L867.61,210.02 L868.14,211.89 L868.68,213.77 L869.20,215.65 L869.73,217.53 L870.25,219.40 L870.77,221.28 L871.28,223.16 L871.80,225.04 L872.31,226.92 L872.82,228.80 L873.33,230.69 L873.83,232.57 L874.34,234.45 L874.84,236.34 L875.34,238.23 L875.84,240.11 L876.34,242.00 L876.84,243.89 L877.33,245.78 L877.83,247.67 L878.32,249.56 L878.81,251.45 L879.30,253.35 L879.79,255.24 L880.28,257.13 L880.76,259.03 L881.25,260.93 L881.73,262.82 L882.22,264.72 L882.70,266.62 L883.18,268.52 L883.65,270.42 L884.13,272.32 L884.61,274.22 L885.08,276.12 L885.56,278.02 L886.03,279.93 L886.50,281.83 L886.97,283.73 L887.44,285.64 L887.91,287.55 L888.38,289.45 L888.84,291.36 L889.31,293.27 L889.77,295.18 L890.24,297.08 L890.70,298.99 L891.16,300.90 L891.62,302.82 L892.08,304.73 L892.54,306.64 L893.00,308.55 L893.45,310.46 L893.91,312.38 L894.36,314.29 L894.82,316.21 L895.27,318.12 L895.73,320.04 L896.18,321.95 L896.63,323.87 L897.08,325.79 L897.53,327.70 L897.98,329.62 L898.43,331.54 L898.87,333.46 L899.32,335.38 L899.77,337.30 L900.21,339.22 L900.66,341.14 L901.10,343.06 L901.55,344.98 L901.99,346.90 L902.43,348.82 L902.88,350.75 L903.32,352.67 L903.76,354.59 L904.20,356.52 L904.64,358.44 L905.08,360.36 L905.52,362.29 L905.96,364.21 L906.40,366.14 L906.84,368.06 L907.28,369.99 L907.71,371.91 L908.15,373.84 L908.59,375.76 L909.03,377.69 L909.46,379.62 L909.90,381.54 L910.34,383.47 L910.77,385.40 L911.21,387.33 L911.64,389.25 L912.08,391.18 L912.51,393.11 L912.95,395.04 L913.38,396.97 L913.82,398.89 L914.25,400.82 L914.69,402.75 L915.12,404.68 L915.56,406.61 L915.99,408.54 L916.43,410.47 L916.86,412.40 L917.30,414.32 L917.73,416.25 L918.17,418.18 L918.60,420.11 L919.04,422.04 L919.47,423.97 L919.91,425.90 L920.34,427.83 L920.78,429.76 L921.21,431.69 L921.65,433.62 L922.09,435.55 L922.52,437.48 L922.96,439.40 L923.40,441.33 L923.83,443.26 L924.27,445.19 L924.71,447.12 L925.15,449.05 L925.59,450.98 L926.03,452.91 L926.46,454.84 L926.90,456.76 L927.34,458.69 L927.79,460.62 L928.23,462.55 L928.67,464.47 L929.11,466.40 L929.55,468.33 L930.00,470.26 L930.44,472.18 L930.88,474.11 L931.33,476.04 L931.77,477.96 L932.22,479.89 L932.67,481.81 L933.11,483.74 L933.56,485.67 L934.01,487.59 L934.46,489.52 L934.91,491.44 L935.36,493.36 L935.81,495.29 L936.26,497.21 L936.71,499.13 L937.17,501.06 L937.62,502.98 L938.08,504.90 L938.53,506.82 L938.99,508.74 L939.45,510.67 L939.91,512.59 L940.37,514.51 L940.83,516.43 L941.29,518.35 L941.75,520.27 L942.21,522.18 L942.68,524.10 L943.14,526.02 L943.61,527.94 L944.08,529.85 L944.55,531.77 L945.02,533.69 L945.49,535.60 L945.96,537.52 L946.43,539.43 L946.91,541.34 L947.38,543.26 L947.86,545.17 L948.33,547.08 L948.81,548.99 L949.29,550.90 L949.78,552.81 L950.26,554.72 L950.74,556.63 L951.23,558.54 L951.71,560.45 L952.20,562.36 L952.69,564.26 L953.18,566.17 L953.68,568.07 L954.17,569.97 L954.67,571.88 L955.17,573.78 L955.67,575.68 L956.17,577.58 L956.67,579.47 L957.18,581.37 L957.69,583.27 L958.20,585.16 L958.71,587.06 L959.22,588.95 L959.74,590.84 L960.26,592.73 L960.78,594.62 L961.30,596.50 L961.82,598.39 L962.35,600.27 L962.88,602.16 L963.41,604.04 L963.95,605.92 L964.48,607.79 L965.02,609.67 L965.56,611.54 L966.11,613.42 L966.66,615.29 L967.21,617.16 L967.76,619.03 L968.31,620.89 L968.87,622.76 L969.43,624.62 L970.00,626.48 L970.57,628.34 L971.14,630.19 L971.71,632.05 L972.29,633.90 L972.86,635.75 L973.45,637.60 L974.03,639.44 L974.62,641.29 L975.21,643.13 L975.81,644.97 L976.40,646.81 L977.00,648.65 L977.60,650.48 L978.21,652.32 L978.81,654.15 L979.42,655.99 L980.03,657.82 L980.65,659.65 L981.26,661.47 L981.88,663.30 L982.50,665.13 L983.12,666.96 L983.74,668.78 L984.36,670.61 L984.99,672.43 L985.61,674.26 L986.24,676.08 L986.87,677.90 L987.50,679.73 L988.13,681.55 L988.76,683.37 L989.39,685.20 L990.02,687.02 L990.66,688.84 L991.29,690.67 L991.92,692.49 L992.56,694.32 L993.19,696.14 L993.83,697.97 L994.46,699.80 L995.10,701.62 L995.74,703.45 L996.37,705.28 L997.01,707.11 L997.64,708.94 L998.28,710.77 L998.91,712.61 L999.55,714.44 L1000.18,716.27 L1000.82,718.10 L1001.46,719.94 L1002.09,721.77 L1002.73,723.61 L1003.37,725.44 L1004.01,727.27 L1004.65,729.11 L1005.30,730.94 L1005.94,732.77 L1006.59,734.61 L1007.23,736.44 L1007.88,738.27 L1008.53,740.10 L1009.18,741.93 L1009.84,743.76 L1010.49,745.59 L1011.15,747.41 L1011.81,749.24 L1012.47,751.06 L1013.14,752.89 L1013.80,754.71 L1014.47,756.53 L1015.14,758.35 L1015.82,760.17 L1016.50,761.98 L1017.18,763.79 L1017.86,765.61 L1018.54,767.42 L1019.23,769.22 L1019.93,771.03 L1020.62,772.83 L1021.32,774.63 L1022.02,776.43 L1022.73,778.22 L1023.44,780.02 L1024.16,781.81 L1024.87,783.59 L1025.60,785.38 L1026.32,787.16 L1027.05,788.94 L1027.79,790.71 L1028.53,792.49 L1029.27,794.26 L1030.02,796.02 L1030.77,797.78 L1031.53,799.54 L1032.29,801.29 L1033.06,803.05 L1033.83,804.79 L1034.61,806.54 L1035.39,808.27 L1036.18,810.01 L1036.97,811.74 L1037.77,813.47 L1038.58,815.19 L1039.39,816.91 L1040.20,818.62 L1041.03,820.33 L1041.85,822.03 L1042.69,823.73 L1043.53,825.42 L1044.38,827.11 L1045.23,828.80 L1046.09,830.47 L1046.96,832.15 L1047.83,833.82 L1048.71,835.48 L1049.60,837.14 L1050.49,838.79 L1051.39,840.43 L1052.30,842.07 L1053.21,843.71 L1054.14,845.34 L1055.07,846.96 L1056.00,848.57 L1056.95,850.18 L1057.90,851.79 L1058.86,853.39 L1059.83,854.98 L1060.81,856.56 L1061.79,858.14 L1062.78,859.71 L1063.78,861.28 L1064.78,862.83 L1065.80,864.38 L1066.82,865.93 L1067.85,867.47 L1068.88,869.00 L1069.92,870.52 L1070.97,872.04 L1072.03,873.55 L1073.09,875.05 L1074.16,876.55 L1075.24,878.04 L1076.32,879.52 L1077.41,880.99 L1078.51,882.46 L1079.62,883.92 L1080.73,885.37 L1081.85,886.81 L1082.97,888.25 L1084.10,889.68 L1085.24,891.10 L1086.38,892.51 L1087.53,893.92 L1088.69,895.32 L1089.85,896.71 L1091.02,898.09 L1092.20,899.46 L1093.38,900.83 L1094.57,902.19 L1095.77,903.54 L1096.97,904.88 L1098.17,906.21 L1099.39,907.53 L1100.60,908.85 L1101.83,910.16 L1103.06,911.46 L1104.30,912.75 L1105.54,914.03 L1106.79,915.31 L1108.04,916.57 L1109.30,917.83 L1110.56,919.07 L1111.83,920.31 L1113.11,921.54 L1114.39,922.76 L1115.68,923.97 L1116.97,925.18 L1118.27,926.37 L1119.57,927.55 L1120.88,928.73 L1122.19,929.89 L1123.51,931.05 L1124.83,932.20 L1126.16,933.33 L1127.49,934.46 L1128.83,935.58 L1130.17,936.69 L1131.52,937.79 L1132.87,938.88 L1134.23,939.95 L1135.59,941.02 L1136.96,942.08 L1138.33,943.13 L1139.71,944.17 L1141.09,945.20 L1142.47,946.22 L1143.86,947.23 L1145.26,948.23 L1146.65,949.22 L1148.06,950.20 L1149.46,951.17 L1150.87,952.12 L1152.29,953.07 L1153.71,954.01 L1155.13,954.93 L1156.56,955.85 L1157.99,956.75 L1159.43,957.65 L1160.87,958.53 L1162.31,959.40 L1163.76,960.26 L1165.21,961.11 L1166.66,961.95 L1168.12,962.78 L1169.58,963.60 L1171.05,964.40 L1172.52,965.20 L1173.99,965.98 L1175.46,966.75 L1176.94,967.51 L1178.43,968.26 L1179.91,969.00 L1181.40,969.73 L1182.89,970.45 L1184.39,971.16 L1185.89,971.85 L1187.39,972.54 L1188.89,973.22 L1190.40,973.88 L1191.91,974.54 L1193.43,975.19 L1194.94,975.82 L1196.46,976.45 L1197.98,977.07 L1199.51,977.67 L1201.03,978.27 L1202.56,978.86 L1204.10,979.44 L1205.63,980.01 L1207.17,980.58 L1208.71,981.13 L1210.25,981.67 L1211.79,982.21 L1213.34,982.74 L1214.89,983.26 L1216.44,983.77 L1217.99,984.27 L1219.54,984.77 L1221.10,985.26 L1222.66,985.74 L1224.22,986.21 L1225.78,986.67 L1227.34,987.13 L1228.91,987.58 L1230.48,988.02 L1232.04,988.46 L1233.61,988.88 L1235.19,989.31 L1236.76,989.72 L1238.33,990.13 L1239.91,990.53 L1241.49,990.92 L1243.07,991.31 L1244.65,991.69 L1246.23,992.07 L1247.81,992.44 L1249.39,992.81 L1250.98,993.16 L1252.56,993.52 L1254.15,993.86 L1255.74,994.21 L1257.32,994.54 L1258.91,994.87 L1260.50,995.20 L1262.09,995.52 L1263.68,995.84 L1265.27,996.15 L1266.87,996.45 L1268.46,996.76 L1270.05,997.05 L1271.64,997.35 L1273.24,997.63 L1274.83,997.92 L1276.43,998.20 L1278.02,998.48 L1279.62,998.75 L1281.21,999.02 L1282.80,999.28 L1284.40,999.55 L1285.99,999.81 L1287.59,1000.06 L1289.18,1000.31 L1290.78,1000.56 L1292.37,1000.80" fill="none" stroke="#ff8000" stroke-width="5.4" stroke-linejoin="round" stroke-linecap="round"/>
<path d="M173.49,1005.50 L175.13,1005.50 L176.77,1005.50 L178.40,1005.50 L180.04,1005.50 L181.68,1005.50 L183.31,1005.50 L184.95,1005.50 L186.59,1005.50 L188.22,1005.50 L189.86,1005.50 L191.50,1005.50 L193.13,1005.50 L194.77,1005.50 L196.41,1005.50 L198.05,1005.50 L199.68,1005.50 L201.32,1005.50 L202.96,1005.50 L204.59,1005.50 L206.23,1005.50 L207.87,1005.50 L209.50,1005.50 L211.14,1005.50 L212.78,1005.50 L214.41,1005.50 L216.05,1005.50 L217.69,1005.50 L219.32,1005.50 L220.96,1005.50 L222.60,1005.50 L224.23,1005.50 L225.87,1005.50 L227.51,1005.50 L229.14,1005.50 L230.78,1005.50 L232.42,1005.50 L234.05,1005.50 L235.69,1005.50 L237.33,1005.50 L238.96,1005.50 L240.60,1005.50 L242.24,1005.50 L243.87,1005.50 L245.51,1005.50 L247.15,1005.50 L248.78,1005.50 L250.42,1005.50 L252.06,1005.50 L253.69,1005.50 L255.33,1005.50 L256.97,1005.50 L258.60,1005.50 L260.24,1005.50 L261.86,1005.08 L263.45,1004.47 L265.00,1003.78 L266.50,1003.01 L267.95,1002.17 L269.35,1001.25 L270.71,1000.27 L272.03,999.21 L273.31,998.10 L274.54,996.92 L275.74,995.68 L276.90,994.38 L278.02,993.03 L279.11,991.63 L280.16,990.18 L281.18,988.69 L282.17,987.15 L283.13,985.57 L284.06,983.95 L284.96,982.30 L285.83,980.62 L286.68,978.90 L287.51,977.16 L288.31,975.40 L289.09,973.61 L289.85,971.80 L290.59,969.98 L291.32,968.14 L292.03,966.29 L292.72,964.43 L293.40,962.57 L294.06,960.71 L294.71,958.84 L295.36,956.96 L295.98,955.09 L296.60,953.21 L297.20,951.32 L297.80,949.44 L298.38,947.55 L298.95,945.66 L299.51,943.76 L300.06,941.86 L300.60,939.96 L301.12,938.06 L301.64,936.16 L302.15,934.25 L302.65,932.34 L303.14,930.42 L303.62,928.51 L304.09,926.59 L304.55,924.67 L305.00,922.75 L305.45,920.82 L305.88,918.89 L306.31,916.96 L306.73,915.03 L307.15,913.10 L307.55,911.17 L307.95,909.23 L308.34,907.29 L308.73,905.35 L309.10,903.41 L309.48,901.46 L309.84,899.52 L310.20,897.57 L310.56,895.62 L310.91,893.67 L311.25,891.72 L311.59,889.77 L311.92,887.81 L312.25,885.86 L312.57,883.90 L312.89,881.95 L313.21,879.99 L313.52,878.03 L313.83,876.07 L314.13,874.11 L314.44,872.15 L314.74,870.18 L315.03,868.22 L315.32,866.26 L315.62,864.29 L315.90,862.33 L316.19,860.36 L316.47,858.40 L316.76,856.43 L317.04,854.46 L317.31,852.50 L317.59,850.53 L317.86,848.56 L318.13,846.59 L318.40,844.62 L318.66,842.65 L318.93,840.68 L319.19,838.71 L319.45,836.74 L319.70,834.76 L319.96,832.79 L320.21,830.82 L320.46,828.84 L320.71,826.87 L320.96,824.90 L321.20,822.92 L321.45,820.95 L321.69,818.97 L321.92,816.99 L322.16,815.02 L322.40,813.04 L322.63,811.06 L322.86,809.08 L323.09,807.10 L323.32,805.12 L323.54,803.15 L323.77,801.17 L323.99,799.19 L324.21,797.20 L324.43,795.22 L324.64,793.24 L324.86,791.26 L325.07,789.28 L325.28,787.30 L325.49,785.31 L325.70,783.33 L325.91,781.35 L326.11,779.36 L326.31,777.38 L326.51,775.39 L326.71,773.41 L326.91,771.42 L327.11,769.44 L327.31,767.45 L327.50,765.46 L327.69,763.48 L327.88,761.49 L328.07,759.50 L328.26,757.52 L328.45,755.53 L328.63,753.54 L328.82,751.55 L329.00,749.56 L329.18,747.57 L329.36,745.58 L329.54,743.60 L329.72,741.61 L329.89,739.62 L330.07,737.63 L330.24,735.64 L330.42,733.64 L330.59,731.65 L330.76,729.66 L330.93,727.67 L331.10,725.68 L331.26,723.69 L331.43,721.70 L331.59,719.70 L331.76,717.71 L331.92,715.72 L332.08,713.73 L332.24,711.73 L332.40,709.74 L332.56,707.75 L332.72,705.75 L332.88,703.76 L333.03,701.77 L333.19,699.77 L333.34,697.78 L333.50,695.79 L333.65,693.79 L333.80,691.80 L333.95,689.80 L334.11,687.81 L334.26,685.81 L334.40,683.82 L334.55,681.82 L334.70,679.83 L334.85,677.84 L334.99,675.84 L335.14,673.85 L335.28,671.85 L335.43,669.85 L335.57,667.86 L335.72,665.86 L335.86,663.87 L336.00,661.87 L336.14,659.88 L336.28,657.88 L336.43,655.89 L336.57,653.89 L336.71,651.90 L336.84,649.90 L336.98,647.90 L337.12,645.91 L337.26,643.91 L337.40,641.92 L337.53,639.92 L337.67,637.93 L337.81,635.93 L337.94,633.93 L338.08,631.94 L338.21,629.94 L338.34,627.94 L338.48,625.95 L338.61,623.95 L338.74,621.96 L338.87,619.96 L339.01,617.96 L339.14,615.97 L339.27,613.97 L339.40,611.97 L339.53,609.98 L339.66,607.98 L339.79,605.99 L339.92,603.99 L340.04,601.99 L340.17,600.00 L340.30,598.00 L340.43,596.00 L340.55,594.01 L340.68,592.01 L340.81,590.01 L340.93,588.02 L341.06,586.02 L341.18,584.02 L341.31,582.03 L341.43,580.03 L341.55,578.03 L341.68,576.03 L341.80,574.04 L341.92,572.04 L342.05,570.04 L342.17,568.05 L342.29,566.05 L342.41,564.05 L342.53,562.06 L342.65,560.06 L342.77,558.06 L342.89,556.06 L343.01,554.07 L343.13,552.07 L343.25,550.07 L343.37,548.08 L343.49,546.08 L343.61,544.08 L343.73,542.08 L343.84,540.09 L343.96,538.09 L344.08,536.09 L344.20,534.10 L344.31,532.10 L344.43,530.10 L344.55,528.10 L344.66,526.11 L344.78,524.11 L344.90,522.11 L345.01,520.12 L345.13,518.12 L345.24,516.12 L345.36,514.12 L345.47,512.13 L345.59,510.13 L345.70,508.13 L345.81,506.13 L345.93,504.14 L346.04,502.14 L346.16,500.14 L346.27,498.15 L346.38,496.15 L346.50,494.15 L346.61,492.15 L346.72,490.16 L346.83,488.16 L346.95,486.16 L347.06,484.16 L347.17,482.17 L347.28,480.17 L347.39,478.17 L347.51,476.18 L347.62,474.18 L347.73,472.18 L347.84,470.18 L347.95,468.19 L348.06,466.19 L348.18,464.19 L348.29,462.20 L348.40,460.20 L348.51,458.20 L348.62,456.20 L348.73,454.21 L348.84,452.21 L348.95,450.21 L349.06,448.22 L349.17,446.22 L349.28,444.22 L349.39,442.22 L349.50,440.23 L349.61,438.23 L349.72,436.23 L349.83,434.24 L349.95,432.24 L350.06,430.24 L350.17,428.25 L350.28,426.25 L350.39,424.25 L350.50,422.26 L350.61,420.26 L350.72,418.26 L350.83,416.27 L350.94,414.27 L351.05,412.27 L351.16,410.28 L351.27,408.28 L351.38,406.28 L351.49,404.29 L351.60,402.29 L351.71,400.29 L351.82,398.30 L351.93,396.30 L352.04,394.30 L352.15,392.31 L352.26,390.31 L352.37,388.31 L352.49,386.32 L352.60,384.32 L352.71,382.33 L352.82,380.33 L352.93,378.33 L353.04,376.34 L353.15,374.34 L353.27,372.35 L353.38,370.35 L353.49,368.35 L353.60,366.36 L353.71,364.36 L353.83,362.37 L353.94,360.37 L354.05,358.38 L354.16,356.38 L354.28,354.38 L354.39,352.39 L354.50,350.39 L354.62,348.40 L354.73,346.40 L354.84,344.41 L354.96,342.41 L355.07,340.42 L355.18,338.42 L355.30,336.43 L355.41,334.43 L355.53,332.44 L355.64,330.44 L355.76,328.45 L355.87,326.45 L355.99,324.46 L356.11,322.46 L356.22,320.47 L356.34,318.47 L356.45,316.48 L356.57,314.48 L356.69,312.49 L356.81,310.49 L356.92,308.50 L357.04,306.50 L357.16,304.51 L357.28,302.52 L357.40,300.52 L357.52,298.53 L357.63,296.53 L357.75,294.54 L357.87,292.55 L357.99,290.55 L358.11,288.56 L358.24,286.56 L358.36,284.57 L358.48,282.58 L358.60,280.58 L358.72,278.59 L358.84,276.60 L358.97,274.60 L359.09,272.61 L359.21,270.62 L359.34,268.62 L359.46,266.63 L359.58,264.64 L359.71,262.64 L359.83,260.65 L359.96,258.66 L360.09,256.66 L360.21,254.67 L360.34,252.67 L360.47,250.68 L360.60,248.68 L360.73,246.68 L360.86,244.69 L360.99,242.69 L361.12,240.69 L361.25,238.68 L361.39,236.68 L361.52,234.67 L361.66,232.67 L361.80,230.66 L361.94,228.65 L362.08,226.64 L362.22,224.62 L362.36,222.60 L362.51,220.59 L362.65,218.56 L362.80,216.54 L362.95,214.51 L363.10,212.48 L363.25,210.45 L363.41,208.42 L363.56,206.39 L363.72,204.37 L363.88,202.34 L364.04,200.32 L364.20,198.30 L364.36,196.29 L364.52,194.28 L364.69,192.27 L364.86,190.28 L365.02,188.29 L365.19,186.31 L365.36,184.34 L365.53,182.39 L365.70,180.44 L365.88,178.50 L366.05,176.58 L366.22,174.67 L366.40,172.78 L366.58,170.90 L366.75,169.04 L366.93,167.19 L367.11,165.36 L367.29,163.55 L367.48,161.73 L367.66,159.92 L367.86,158.10 L368.05,156.27 L368.25,154.41 L368.46,152.53 L368.68,150.61 L368.90,148.66 L369.13,146.65 L369.38,144.60 L369.63,142.48 L369.90,140.30 L370.17,138.05 L370.47,135.72 L370.77,133.30 L371.09,130.79 L371.43,128.18 L371.78,125.46 L372.15,122.64 L372.54,119.76 L372.93,116.90 L373.35,114.15 L373.76,111.60 L374.19,109.31 L374.62,107.39 L375.05,105.91 L375.48,104.88 L375.91,104.28 L376.33,104.07 L376.76,104.23 L377.17,104.73 L377.59,105.54 L377.99,106.63 L378.39,107.97 L378.78,109.53 L379.16,111.28 L379.53,113.19 L379.89,115.24 L380.23,117.39 L380.56,119.61 L380.88,121.88 L381.18,124.16 L381.46,126.43 L381.73,128.68 L381.98,130.91 L382.21,133.12 L382.44,135.31 L382.64,137.49 L382.84,139.64 L383.02,141.78 L383.20,143.91 L383.36,146.02 L383.51,148.12 L383.66,150.20 L383.80,152.27 L383.93,154.33 L384.05,156.38 L384.17,158.42 L384.29,160.45 L384.40,162.48 L384.51,164.49 L384.61,166.50 L384.72,168.50 L384.82,170.49 L384.93,172.49 L385.03,174.47 L385.14,176.46 L385.25,178.44 L385.37,180.42 L385.49,182.40 L385.61,184.38 L385.74,186.36 L385.88,188.34 L386.02,190.32 L386.16,192.30 L386.31,194.29 L386.47,196.27 L386.62,198.25 L386.78,200.24 L386.95,202.22 L387.12,204.20 L387.28,206.19 L387.46,208.17 L387.63,210.16 L387.81,212.15 L387.98,214.13 L388.16,216.12 L388.34,218.11 L388.52,220.09 L388.70,222.08 L388.88,224.07 L389.06,226.06 L389.24,228.04 L389.42,230.03 L389.60,232.02 L389.77,234.01 L389.95,236.00 L390.12,237.99 L390.29,239.98 L390.46,241.97 L390.63,243.96 L390.79,245.95 L390.96,247.94 L391.12,249.93 L391.28,251.92 L391.44,253.92 L391.60,255.91 L391.76,257.90 L391.91,259.89 L392.07,261.88 L392.22,263.88 L392.37,265.87 L392.52,267.86 L392.67,269.85 L392.82,271.85 L392.97,273.84 L393.12,275.83 L393.26,277.83 L393.41,279.82 L393.55,281.81 L393.70,283.81 L393.84,285.80 L393.98,287.80 L394.12,289.79 L394.26,291.79 L394.40,293.78 L394.53,295.77 L394.67,297.77 L394.81,299.76 L394.94,301.76 L395.08,303.75 L395.21,305.75 L395.35,307.74 L395.48,309.74 L395.61,311.74 L395.75,313.73 L395.88,315.73 L396.01,317.72 L396.14,319.72 L396.27,321.71 L396.40,323.71 L396.53,325.71 L396.66,327.70 L396.79,329.70 L396.92,331.69 L397.05,333.69 L397.18,335.69 L397.31,337.68 L397.44,339.68 L397.57,341.67 L397.70,343.67 L397.82,345.67 L397.95,347.66 L398.08,349.66 L398.21,351.66 L398.34,353.65 L398.47,355.65 L398.60,357.64 L398.73,359.64 L398.86,361.64 L398.99,363.63 L399.11,365.63 L399.24,367.63 L399.37,369.62 L399.50,371.62 L399.63,373.61 L399.76,375.61 L399.89,377.61 L400.02,379.60 L400.15,381.60 L400.28,383.60 L400.41,385.59 L400.55,387.59 L400.68,389.58 L400.81,391.58 L400.94,393.58 L401.07,395.57 L401.20,397.57 L401.33,399.56 L401.47,401.56 L401.60,403.56 L401.73,405.55 L401.87,407.55 L402.00,409.54 L402.13,411.54 L402.27,413.53 L402.40,415.53 L402.54,417.53 L402.67,419.52 L402.81,421.52 L402.94,423.51 L403.08,425.51 L403.22,427.50 L403.35,429.50 L403.49,431.49 L403.63,433.49 L403.77,435.48 L403.90,437.48 L404.04,439.47 L404.18,441.47 L404.32,443.46 L404.46,445.46 L404.60,447.45 L404.75,449.45 L404.89,451.44 L405.03,453.44 L405.17,455.43 L405.32,457.42 L405.46,459.42 L405.60,461.41 L405.75,463.41 L405.90,465.40 L406.04,467.40 L406.19,469.39 L406.34,471.38 L406.48,473.38 L406.63,475.37 L406.78,477.36 L406.93,479.36 L407.08,481.35 L407.23,483.34 L407.39,485.34 L407.54,487.33 L407.69,489.32 L407.84,491.31 L408.00,493.31 L408.15,495.30 L408.31,497.29 L408.47,499.28 L408.62,501.28 L408.78,503.27 L408.94,505.26 L409.10,507.25 L409.26,509.24 L409.42,511.24 L409.59,513.23 L409.75,515.22 L409.91,517.21 L410.08,519.20 L410.24,521.19 L410.41,523.18 L410.58,525.17 L410.74,527.16 L410.91,529.15 L411.08,531.14 L411.25,533.13 L411.42,535.12 L411.60,537.11 L411.77,539.10 L411.94,541.09 L412.12,543.08 L412.30,545.07 L412.47,547.06 L412.65,549.05 L412.83,551.04 L413.01,553.03 L413.19,555.02 L413.37,557.00 L413.56,558.99 L413.74,560.98 L413.93,562.97 L414.11,564.95 L414.30,566.94 L414.49,568.93 L414.68,570.92 L414.87,572.90 L415.06,574.89 L415.25,576.88 L415.45,578.86 L415.64,580.85 L415.84,582.84 L416.03,584.82 L416.23,586.81 L416.43,588.79 L416.63,590.78 L416.83,592.76 L417.04,594.75 L417.24,596.73 L417.45,598.72 L417.65,600.70 L417.86,602.68 L418.07,604.67 L418.28,606.65 L418.49,608.64 L418.71,610.62 L418.92,612.60 L419.14,614.58 L419.35,616.57 L419.57,618.55 L419.79,620.53 L420.01,622.51 L420.24,624.50 L420.46,626.48 L420.68,628.46 L420.91,630.44 L421.14,632.42 L421.37,634.40 L421.60,636.38 L421.83,638.36 L422.06,640.34 L422.30,642.32 L422.53,644.30 L422.77,646.28 L423.01,648.26 L423.25,650.24 L423.49,652.22 L423.74,654.20 L423.98,656.17 L424.23,658.15 L424.48,660.13 L424.73,662.11 L424.98,664.08 L425.23,666.06 L425.48,668.04 L425.74,670.01 L426.00,671.99 L426.26,673.96 L426.52,675.94 L426.78,677.91 L427.04,679.89 L427.31,681.86 L427.58,683.84 L427.84,685.81 L428.11,687.79 L428.39,689.76 L428.66,691.73 L428.94,693.71 L429.21,695.68 L429.49,697.65 L429.77,699.62 L430.05,701.60 L430.34,703.57 L430.62,705.54 L430.91,707.51 L431.20,709.48 L431.49,711.45 L431.78,713.42 L432.08,715.39 L432.37,717.36 L432.67,719.33 L432.97,721.30 L433.27,723.27 L433.58,725.24 L433.88,727.21 L434.19,729.17 L434.50,731.14 L434.81,733.11 L435.12,735.08 L435.44,737.04 L435.75,739.01 L436.07,740.97 L436.39,742.94 L436.72,744.90 L437.04,746.87 L437.37,748.83 L437.70,750.79 L438.03,752.75 L438.36,754.71 L438.69,756.67 L439.03,758.63 L439.37,760.59 L439.71,762.54 L440.06,764.50 L440.40,766.45 L440.75,768.40 L441.10,770.35 L441.45,772.30 L441.81,774.25 L442.17,776.20 L442.53,778.14 L442.89,780.08 L443.25,782.02 L443.62,783.96 L443.99,785.90 L444.36,787.83 L444.74,789.77 L445.12,791.70 L445.50,793.62 L445.88,795.55 L446.26,797.47 L446.65,799.39 L447.04,801.31 L447.43,803.23 L447.83,805.14 L448.23,807.05 L448.63,808.96 L449.03,810.86 L449.45,812.77 L449.87,814.66 L450.32,816.55 L450.78,818.44 L451.28,820.32 L451.81,822.19 L452.38,824.05 L453.00,825.90 L453.66,827.74 L454.38,829.56 L455.17,831.38 L456.02,833.18 L456.94,834.96 L457.94,836.73 L459.02,838.49 L460.17,840.21 L461.39,841.87 L462.66,843.47 L463.97,844.97 L465.32,846.37 L466.69,847.63 L468.07,848.74 L469.45,849.68 L470.82,850.43 L472.17,850.98 L473.49,851.30 L474.78,851.41 L476.04,851.32 L477.28,851.05 L478.49,850.59 L479.67,849.97 L480.83,849.19 L481.97,848.27 L483.08,847.21 L484.16,846.03 L485.23,844.74 L486.27,843.35 L487.29,841.87 L488.29,840.32 L489.28,838.69 L490.24,837.01 L491.18,835.29 L492.11,833.54 L493.02,831.76 L493.92,829.97 L494.79,828.18 L495.66,826.39 L496.50,824.58 L497.34,822.78 L498.16,820.97 L498.96,819.15 L499.76,817.34 L500.53,815.51 L501.30,813.69 L502.06,811.86 L502.80,810.03 L503.53,808.19 L504.25,806.36 L504.96,804.52 L505.66,802.68 L506.35,800.83 L507.04,798.99 L507.71,797.14 L508.37,795.29 L509.03,793.44 L509.68,791.59 L510.32,789.73 L510.95,787.88 L511.58,786.03 L512.20,784.17 L512.82,782.32 L513.43,780.46 L514.04,778.61 L514.64,776.75 L515.24,774.90 L515.83,773.04 L516.42,771.19 L517.01,769.34 L517.60,767.49 L518.18,765.64 L518.76,763.79 L519.35,761.95 L519.93,760.10 L520.51,758.26 L521.09,756.42 L521.67,754.59 L522.25,752.75 L522.83,750.92 L523.42,749.09 L524.00,747.27 L524.59,745.45 L525.18,743.63 L525.77,741.81 L526.37,740.00 L526.97,738.19 L527.57,736.38 L528.17,734.58 L528.77,732.77 L529.38,730.97 L529.99,729.17 L530.61,727.38 L531.23,725.58 L531.85,723.78 L532.47,721.99 L533.10,720.20 L533.73,718.41 L534.36,716.62 L535.00,714.83 L535.64,713.04 L536.29,711.25 L536.94,709.46 L537.59,707.68 L538.25,705.89 L538.91,704.10 L539.58,702.31 L540.25,700.53 L540.93,698.74 L541.61,696.95 L542.29,695.16 L542.98,693.37 L543.68,691.58 L544.38,689.79 L545.08,687.99 L545.79,686.20 L546.51,684.40 L547.23,682.60 L547.95,680.80 L548.69,679.00 L549.42,677.20 L550.17,675.39 L550.92,673.58 L551.67,671.77 L552.43,669.96 L553.20,668.14 L553.97,666.32 L554.75,664.50 L555.54,662.68 L556.33,660.85 L557.13,659.02 L557.94,657.18 L558.75,655.34 L559.57,653.50 L560.40,651.65 L561.23,649.80 L562.08,647.95 L562.93,646.09 L563.79,644.24 L564.66,642.39 L565.54,640.56 L566.43,638.73 L567.33,636.92 L568.25,635.13 L569.19,633.36 L570.14,631.62 L571.11,629.90 L572.10,628.22 L573.10,626.57 L574.13,624.95 L575.17,623.38 L576.24,621.86 L577.33,620.38 L578.44,618.95 L579.58,617.57 L580.75,616.25 L581.94,614.99 L583.16,613.79 L584.41,612.67 L585.68,611.61 L586.99,610.62 L588.33,609.70 L589.69,608.86 L591.09,608.09 L592.50,607.39 L593.94,606.76 L595.40,606.20 L596.89,605.71 L598.38,605.28 L599.90,604.92 L601.43,604.63 L602.97,604.40 L604.53,604.23 L606.09,604.12 L607.66,604.08 L609.24,604.10 L610.83,604.17 L612.41,604.31 L614.00,604.50 L615.58,604.75 L617.17,605.06 L618.75,605.42 L620.32,605.84 L621.89,606.31 L623.45,606.83 L625.00,607.40 L626.54,608.02 L628.07,608.68 L629.60,609.37 L631.11,610.10 L632.62,610.86 L634.12,611.64 L635.61,612.45 L637.10,613.26 L638.58,614.09 L640.05,614.93 L641.52,615.77 L642.99,616.60 L644.45,617.43 L645.91,618.25 L647.36,619.06 L648.82,619.86 L650.27,620.64 L651.71,621.40 L653.16,622.16 L654.61,622.89 L656.05,623.62 L657.50,624.33 L658.94,625.02 L660.39,625.70 L661.84,626.37 L663.29,627.02 L664.74,627.66 L666.20,628.27 L667.66,628.88 L669.13,629.47 L670.60,630.04 L672.07,630.59 L673.55,631.13 L675.04,631.65 L676.53,632.16 L678.03,632.65 L679.54,633.12 L681.06,633.57 L682.58,634.00 L684.12,634.42 L685.66,634.82 L687.21,635.20 L688.78,635.57 L690.35,635.91 L691.94,636.24 L693.54,636.55 L695.15,636.84 L696.77,637.12 L698.39,637.38 L700.03,637.63 L701.67,637.87 L703.32,638.10 L704.98,638.32 L706.64,638.52 L708.31,638.73 L709.99,638.92 L711.67,639.11 L713.35,639.29 L715.04,639.47 L716.73,639.65 L718.42,639.82 L720.11,639.99 L721.81,640.17 L723.50,640.34 L725.20,640.52 L726.89,640.70 L728.58,640.89 L730.28,641.08 L731.97,641.28 L733.65,641.49 L735.34,641.70 L737.02,641.92 L738.69,642.16 L740.36,642.41 L742.03,642.67 L743.68,642.94 L745.33,643.23 L746.98,643.53 L748.61,643.85 L750.24,644.19 L751.86,644.55 L753.47,644.93 L755.07,645.33 L756.66,645.74 L758.24,646.18 L759.81,646.64 L761.37,647.12 L762.92,647.62 L764.47,648.13 L766.00,648.67 L767.52,649.23 L769.04,649.80 L770.54,650.39 L772.04,651.00 L773.53,651.63 L775.01,652.28 L776.48,652.94 L777.95,653.63 L779.40,654.33 L780.85,655.05 L782.29,655.78 L783.72,656.53 L785.14,657.30 L786.55,658.09 L787.96,658.89 L789.36,659.70 L790.75,660.54 L792.13,661.39 L793.51,662.25 L794.88,663.14 L796.24,664.03 L797.60,664.94 L798.94,665.87 L800.28,666.81 L801.62,667.77 L802.94,668.74 L804.26,669.72 L805.58,670.72 L806.88,671.73 L808.18,672.76 L809.48,673.80 L810.76,674.86 L812.05,675.92 L813.32,677.00 L814.59,678.09 L815.85,679.20 L817.11,680.32 L818.36,681.45 L819.61,682.59 L820.85,683.74 L822.08,684.91 L823.31,686.09 L824.54,687.28 L825.76,688.47 L826.97,689.69 L828.18,690.91 L829.38,692.14 L830.58,693.38 L831.77,694.64 L832.96,695.90 L834.15,697.17 L835.33,698.46 L836.50,699.75 L837.67,701.05 L838.84,702.36 L840.01,703.68 L841.16,705.01 L842.32,706.35 L843.47,707.70 L844.62,709.05 L845.76,710.42 L846.90,711.79 L848.04,713.17 L849.17,714.55 L850.30,715.95 L851.43,717.35 L852.55,718.76 L853.67,720.17 L854.79,721.59 L855.90,723.02 L857.01,724.45 L858.12,725.90 L859.23,727.34 L860.33,728.80 L861.43,730.25 L862.53,731.72 L863.62,733.19 L864.72,734.66 L865.81,736.14 L866.90,737.62 L867.99,739.11 L869.07,740.60 L870.16,742.10 L871.24,743.60 L872.32,745.11 L873.40,746.61 L874.48,748.13 L875.56,749.64 L876.63,751.16 L877.71,752.68 L878.78,754.20 L879.85,755.73 L880.93,757.26 L882.00,758.79 L883.07,760.32 L884.14,761.86 L885.21,763.40 L886.27,764.93 L887.34,766.47 L888.41,768.01 L889.48,769.55 L890.55,771.10 L891.62,772.64 L892.68,774.18 L893.75,775.73 L894.82,777.27 L895.89,778.81 L896.96,780.36 L898.03,781.90 L899.10,783.45 L900.17,784.99 L901.24,786.53 L902.31,788.08 L903.38,789.62 L904.45,791.16 L905.53,792.70 L906.60,794.24 L907.67,795.78 L908.75,797.32 L909.82,798.86 L910.90,800.39 L911.98,801.93 L913.06,803.46 L914.14,805.00 L915.22,806.53 L916.30,808.06 L917.38,809.59 L918.46,811.11 L919.55,812.64 L920.63,814.16 L921.72,815.68 L922.81,817.20 L923.90,818.72 L924.99,820.23 L926.08,821.74 L927.18,823.25 L928.27,824.76 L929.37,826.27 L930.47,827.77 L931.57,829.27 L932.67,830.76 L933.77,832.26 L934.88,833.75 L935.99,835.23 L937.10,836.72 L938.21,838.20 L939.32,839.68 L940.43,841.15 L941.55,842.62 L942.67,844.09 L943.79,845.55 L944.91,847.01 L946.04,848.46 L947.16,849.92 L948.29,851.36 L949.43,852.81 L950.56,854.24 L951.70,855.68 L952.84,857.11 L953.98,858.53 L955.12,859.95 L956.27,861.37 L957.42,862.78 L958.57,864.19 L959.72,865.59 L960.88,866.99 L962.04,868.38 L963.20,869.76 L964.36,871.14 L965.53,872.52 L966.70,873.89 L967.88,875.25 L969.05,876.61 L970.23,877.96 L971.42,879.31 L972.60,880.65 L973.79,881.99 L974.98,883.31 L976.18,884.64 L977.38,885.95 L978.58,887.26 L979.79,888.57 L981.00,889.86 L982.21,891.15 L983.42,892.44 L984.64,893.71 L985.87,894.98 L987.09,896.25 L988.32,897.50 L989.56,898.75 L990.80,899.99 L992.04,901.23 L993.28,902.45 L994.53,903.67 L995.78,904.88 L997.04,906.09 L998.30,907.28 L999.57,908.47 L1000.84,909.65 L1002.11,910.82 L1003.39,911.98 L1004.67,913.14 L1005.95,914.29 L1007.24,915.43 L1008.54,916.56 L1009.84,917.68 L1011.14,918.79 L1012.45,919.90 L1013.76,920.99 L1015.08,922.08 L1016.40,923.15 L1017.72,924.22 L1019.05,925.28 L1020.39,926.33 L1021.73,927.37 L1023.07,928.41 L1024.42,929.43 L1025.77,930.44 L1027.13,931.45 L1028.49,932.45 L1029.86,933.43 L1031.23,934.41 L1032.60,935.38 L1033.98,936.34 L1035.36,937.30 L1036.75,938.24 L1038.14,939.18 L1039.53,940.10 L1040.93,941.02 L1042.33,941.93 L1043.74,942.84 L1045.15,943.73 L1046.56,944.61 L1047.98,945.49 L1049.40,946.36 L1050.83,947.22 L1052.26,948.07 L1053.69,948.92 L1055.13,949.75 L1056.57,950.58 L1058.01,951.40 L1059.46,952.21 L1060.91,953.01 L1062.37,953.81 L1063.82,954.60 L1065.29,955.38 L1066.75,956.15 L1068.22,956.91 L1069.69,957.67 L1071.16,958.42 L1072.64,959.16 L1074.12,959.90 L1075.60,960.62 L1077.09,961.34 L1078.58,962.05 L1080.07,962.75 L1081.57,963.45 L1083.07,964.14 L1084.57,964.82 L1086.07,965.50 L1087.58,966.16 L1089.09,966.82 L1090.61,967.47 L1092.12,968.12 L1093.64,968.76 L1095.16,969.39 L1096.68,970.01 L1098.21,970.63 L1099.74,971.24 L1101.27,971.84 L1102.80,972.44 L1104.34,973.03 L1105.88,973.61 L1107.42,974.19 L1108.96,974.76 L1110.51,975.32 L1112.05,975.87 L1113.60,976.42 L1115.16,976.97 L1116.71,977.50 L1118.27,978.03 L1119.82,978.55 L1121.38,979.07 L1122.95,979.58 L1124.51,980.08 L1126.08,980.58 L1127.65,981.07 L1129.22,981.56 L1130.79,982.04 L1132.36,982.51 L1133.93,982.98 L1135.51,983.44 L1137.09,983.89 L1138.67,984.34 L1140.25,984.78 L1141.83,985.22 L1143.42,985.65 L1145.01,986.07 L1146.59,986.49 L1148.18,986.90 L1149.77,987.31 L1151.36,987.71 L1152.96,988.11 L1154.55,988.50 L1156.15,988.88 L1157.74,989.26 L1159.34,989.63 L1160.94,990.00 L1162.54,990.36 L1164.14,990.72 L1165.74,991.07 L1167.34,991.42 L1168.95,991.76 L1170.55,992.10 L1172.16,992.43 L1173.76,992.75 L1175.37,993.07 L1176.98,993.39 L1178.59,993.70 L1180.20,994.00 L1181.81,994.30 L1183.42,994.60 L1185.03,994.89 L1186.64,995.18 L1188.25,995.46 L1189.86,995.73 L1191.47,996.00 L1193.09,996.27 L1194.70,996.53 L1196.31,996.79 L1197.93,997.04 L1199.54,997.29 L1201.16,997.53 L1202.77,997.77 L1204.39,998.00 L1206.00,998.23 L1207.61,998.46 L1209.23,998.68 L1210.84,998.90 L1212.46,999.11 L1214.07,999.32 L1215.69,999.52 L1217.30,999.72 L1218.91,999.92 L1220.53,1000.11 L1222.14,1000.30 L1223.75,1000.48 L1225.37,1000.66 L1226.98,1000.84 L1228.59,1001.01 L1230.20,1001.18 L1231.81,1001.35 L1233.42,1001.51 L1235.03,1001.66 L1236.64,1001.82 L1238.25,1001.97 L1239.86,1002.11 L1241.46,1002.26 L1243.07,1002.39 L1244.67,1002.53 L1246.28,1002.66 L1247.88,1002.79 L1249.48,1002.92 L1251.09,1003.04 L1252.69,1003.16 L1254.29,1003.27 L1255.88,1003.38 L1257.48,1003.49 L1259.08,1003.60 L1260.67,1003.70 L1262.27,1003.80 L1263.86,1003.90 L1265.45,1003.99 L1267.04,1004.08 L1268.63,1004.17 L1270.22,1004.25 L1271.80,1004.34 L1273.39,1004.42 L1274.97,1004.49 L1276.55,1004.57 L1278.13,1004.64 L1279.71,1004.71 L1281.28,1004.77 L1282.86,1004.83 L1284.43,1004.89 L1286.00,1004.95 L1287.57,1005.01 L1289.14,1005.06 L1290.71,1005.11 L1292.37,1005.30" fill="none" stroke="#000000" stroke-width="5.4" stroke-linejoin="round" stroke-linecap="round"/>
</g></g>
<rect x="1212.5" y="110.5" width="397" height="239" fill="#fff" stroke="#777" stroke-width="3.5"/>
<rect x="1608" y="113" width="6.5" height="243" fill="#1c1c1c"/>
<rect x="1216" y="350" width="398.5" height="6" fill="#1c1c1c"/>
<line x1="1216" y1="136.3" x2="1327" y2="136.3" stroke="#ff0000" stroke-width="5.5"/>
<text class="c" transform="matrix(1.2363,0,0,1,1338.07,150.10)" font-size="39.72" fill="#ff0000">Red</text>
<line x1="1216" y1="182.8" x2="1327" y2="182.8" stroke="#00ff00" stroke-width="5.5"/>
<text class="c" transform="matrix(1.2045,0,0,1,1339.59,196.50)" font-size="40.00" fill="#00ff00">Green</text>
<line x1="1216" y1="230.2" x2="1327" y2="230.2" stroke="#0000ff" stroke-width="5.5"/>
<text class="c" transform="matrix(1.2352,0,0,1,1338.07,243.30)" font-size="39.72" fill="#0000ff">Blue</text>
<line x1="1216" y1="276.5" x2="1327" y2="276.5" stroke="#ff8000" stroke-width="5.5"/>
<text class="c" transform="matrix(1.2005,0,0,1,1341.76,290.60)" font-size="39.86" fill="#ff8000">Warm White</text>
<line x1="1216" y1="324" x2="1327" y2="324" stroke="#000000" stroke-width="5.5"/>
<text transform="matrix(1.2007,0,0,1,1339.62,337.80)" font-size="39.72" fill="#000000">Cool White</text>
<text transform="matrix(1.2317,0,0,1,112.17,1019.30)" font-size="39.14" fill="#1a1a1a">0.0</text>
<text transform="matrix(1.2459,0,0,1,112.15,840.28)" font-size="39.14" fill="#1a1a1a">0.2</text>
<text transform="matrix(1.2271,0,0,1,112.18,661.26)" font-size="39.14" fill="#1a1a1a">0.4</text>
<text transform="matrix(1.2364,0,0,1,112.16,482.24)" font-size="39.14" fill="#1a1a1a">0.6</text>
<text transform="matrix(1.2364,0,0,1,112.16,303.22)" font-size="39.14" fill="#1a1a1a">0.8</text>
<text transform="matrix(1.1915,0,0,1,114.30,124.20)" font-size="39.14" fill="#1a1a1a">1.0</text>
<text transform="matrix(1.1885,0,0,1,175.88,1068.80)" font-size="40.43" fill="#1a1a1a">380</text>
<text transform="matrix(1.1738,0,0,1,525.10,1068.80)" font-size="40.43" fill="#1a1a1a">480</text>
<text transform="matrix(1.1885,0,0,1,872.38,1068.80)" font-size="40.43" fill="#1a1a1a">580</text>
<text transform="matrix(1.1960,0,0,1,1220.13,1068.80)" font-size="40.43" fill="#1a1a1a">680</text>
<text transform="matrix(1.1960,0,0,1,1568.38,1068.80)" font-size="40.43" fill="#1a1a1a">780</text>
<text transform="matrix(1.2257,0,0,1,690.90,1139.40)" font-size="48.14" fill="#1a1a1a">Wavelength (nm)</text>
<text transform="translate(88.3,829.92) scale(1.245,0.9719) rotate(-90)" font-size="47.8" fill="#1a1a1a">Normalized intensity (a.u.)</text>
<text transform="matrix(1.2375,0,0,1,246.55,59.50)" font-size="38.57" fill="#1a1a1a">452nm</text>
<text class="c" transform="matrix(1.2516,0,0,1,440.04,59.50)" font-size="38.41" fill="#0000ff">454nm</text>
<text class="c" transform="matrix(1.2143,0,0,1,607.07,59.80)" font-size="39.71" fill="#00ff00">513nm</text>
<text class="c" transform="matrix(1.2142,0,0,1,857.10,60.20)" font-size="39.57" fill="#e8a830">606nm</text>
<text class="c" transform="matrix(1.2228,0,0,1,1021.58,60.20)" font-size="39.57" fill="#ff0000">632nm</text>
<rect x="322" y="542" width="156" height="42" fill="#fdfdfd"/>
<text class="c" transform="matrix(1.2456,0,0,1,327.03,576.00)" font-size="39.13" fill="#ff8000">454nm</text>
<text transform="matrix(1.2280,0,0,1,799.59,551.70)" font-size="38.86" fill="#1a1a1a">532nm</text>
<line x1="390.0" y1="67.5" x2="434.2" y2="92.6" stroke="#111" stroke-width="2.8"/><polygon points="457.9,107.6 427.7,95.9 433.7,85.5 459.1,105.4" fill="#111"/>
<line x1="512.8" y1="67.5" x2="497.6" y2="84.6" stroke="#0000ff" stroke-width="2.8"/><polygon points="478.1,104.7 495.8,77.6 504.8,85.6 479.9,106.3" fill="#0000ff"/>
<line x1="680.0" y1="66.5" x2="680.0" y2="84.0" stroke="#00ff00" stroke-width="5"/><polygon points="677.2,105.0 672.5,80.0 687.5,80.0 682.8,105.0" fill="#00ff00"/>
<line x1="929.0" y1="67.7" x2="970.0" y2="92.5" stroke="#ff8000" stroke-width="2.8"/><polygon points="993.4,108.1 963.5,95.6 969.7,85.3 994.6,105.9" fill="#ff8000"/>
<line x1="1095.0" y1="67.0" x2="1095.0" y2="84.0" stroke="#ff0000" stroke-width="5"/><polygon points="1092.2,105.0 1087.5,80.0 1102.5,80.0 1097.8,105.0" fill="#ff0000"/>
<line x1="399.6" y1="583.5" x2="440.5" y2="609.3" stroke="#ff8000" stroke-width="2.8"/><polygon points="463.5,625.4 433.9,612.3 440.3,602.1 464.9,623.2" fill="#ff8000"/>
<line x1="800.4" y1="559.7" x2="775.5" y2="580.1" stroke="#111" stroke-width="2.8"/><polygon points="753.0,596.8 774.8,572.9 782.4,582.2 754.6,598.8" fill="#111"/>
</g>
</svg>
</body></html>
